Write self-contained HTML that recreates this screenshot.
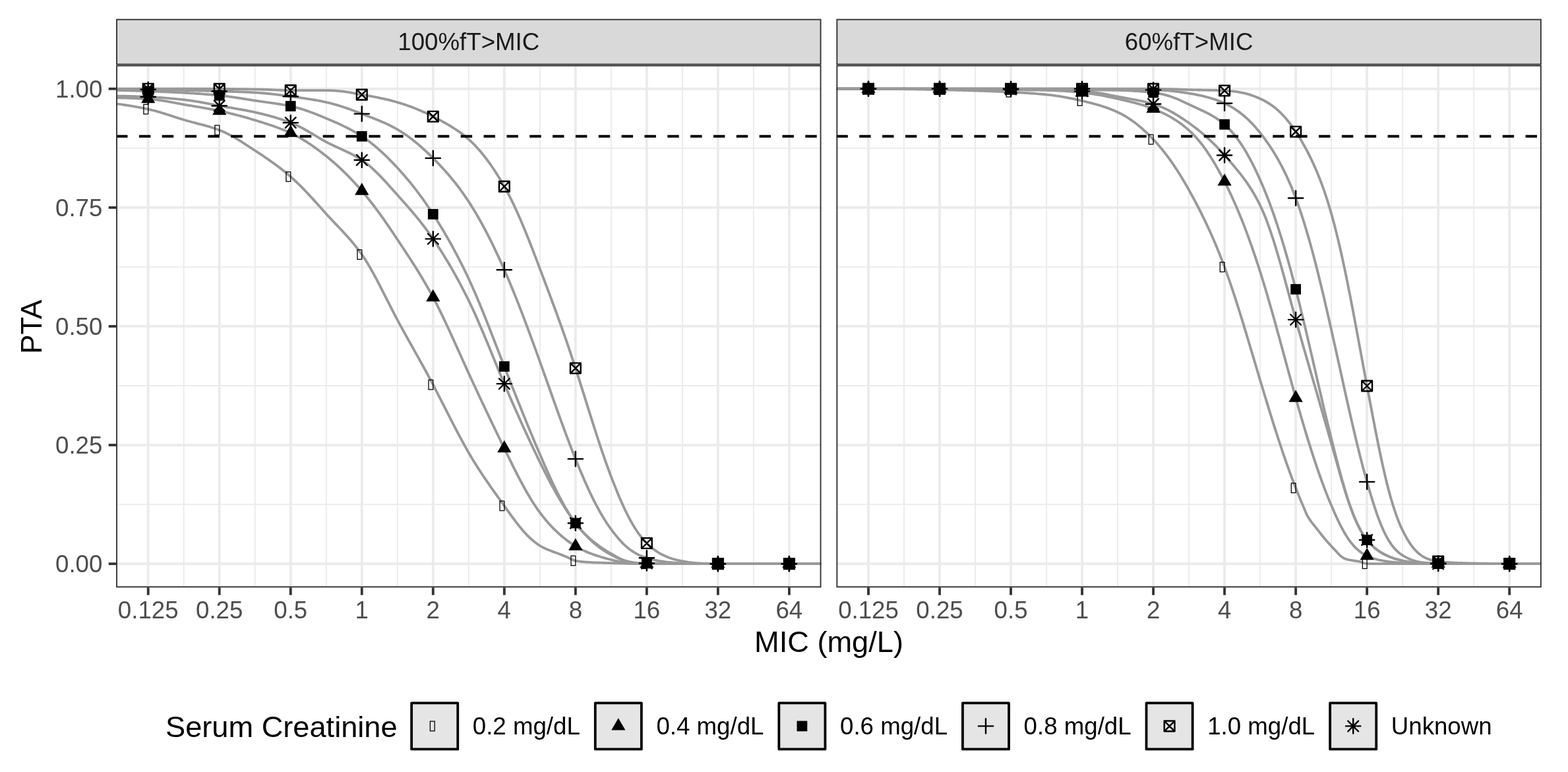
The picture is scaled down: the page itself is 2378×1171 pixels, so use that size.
<!DOCTYPE html>
<html><head><meta charset="utf-8"><title>PTA plot</title>
<style>html,body{margin:0;padding:0;background:#fff;}svg{display:block;}</style>
</head><body>
<svg width="2378" height="1171" viewBox="0 0 2378 1171">
<rect width="2378" height="1171" fill="#fff"/>
<defs>
<clipPath id="cp0"><rect x="176.1" y="98.7" width="1069.4" height="792.5"/></clipPath>
<clipPath id="cp1"><rect x="1268.4" y="98.7" width="1069.4" height="792.5"/></clipPath>
</defs>
<rect x="177.05" y="29.65" width="1067.5" height="67.9" fill="#D9D9D9" stroke="#333333" stroke-width="1.9"/>
<text x="710.8" y="76.2" text-anchor="middle" font-size="36.67" fill="#1A1A1A" font-family="'Liberation Sans', Arial, sans-serif">100%fT&gt;MIC</text>
<g clip-path="url(#cp0)">
<line x1="176.1" x2="1245.5" y1="765.12" y2="765.12" stroke="#EBEBEB" stroke-width="1.92"/>
<line x1="176.1" x2="1245.5" y1="585.01" y2="585.01" stroke="#EBEBEB" stroke-width="1.92"/>
<line x1="176.1" x2="1245.5" y1="404.89" y2="404.89" stroke="#EBEBEB" stroke-width="1.92"/>
<line x1="176.1" x2="1245.5" y1="224.78" y2="224.78" stroke="#EBEBEB" stroke-width="1.92"/>
<line x1="278.72" x2="278.72" y1="98.7" y2="891.2" stroke="#EBEBEB" stroke-width="1.92"/>
<line x1="386.74" x2="386.74" y1="98.7" y2="891.2" stroke="#EBEBEB" stroke-width="1.92"/>
<line x1="494.76" x2="494.76" y1="98.7" y2="891.2" stroke="#EBEBEB" stroke-width="1.92"/>
<line x1="602.78" x2="602.78" y1="98.7" y2="891.2" stroke="#EBEBEB" stroke-width="1.92"/>
<line x1="710.8" x2="710.8" y1="98.7" y2="891.2" stroke="#EBEBEB" stroke-width="1.92"/>
<line x1="818.82" x2="818.82" y1="98.7" y2="891.2" stroke="#EBEBEB" stroke-width="1.92"/>
<line x1="926.84" x2="926.84" y1="98.7" y2="891.2" stroke="#EBEBEB" stroke-width="1.92"/>
<line x1="1034.86" x2="1034.86" y1="98.7" y2="891.2" stroke="#EBEBEB" stroke-width="1.92"/>
<line x1="1142.88" x2="1142.88" y1="98.7" y2="891.2" stroke="#EBEBEB" stroke-width="1.92"/>
<line x1="176.1" x2="1245.5" y1="855.18" y2="855.18" stroke="#EBEBEB" stroke-width="3.84"/>
<line x1="176.1" x2="1245.5" y1="675.06" y2="675.06" stroke="#EBEBEB" stroke-width="3.84"/>
<line x1="176.1" x2="1245.5" y1="494.95" y2="494.95" stroke="#EBEBEB" stroke-width="3.84"/>
<line x1="176.1" x2="1245.5" y1="314.84" y2="314.84" stroke="#EBEBEB" stroke-width="3.84"/>
<line x1="176.1" x2="1245.5" y1="134.72" y2="134.72" stroke="#EBEBEB" stroke-width="3.84"/>
<line x1="224.71" x2="224.71" y1="98.7" y2="891.2" stroke="#EBEBEB" stroke-width="3.84"/>
<line x1="332.73" x2="332.73" y1="98.7" y2="891.2" stroke="#EBEBEB" stroke-width="3.84"/>
<line x1="440.75" x2="440.75" y1="98.7" y2="891.2" stroke="#EBEBEB" stroke-width="3.84"/>
<line x1="548.77" x2="548.77" y1="98.7" y2="891.2" stroke="#EBEBEB" stroke-width="3.84"/>
<line x1="656.79" x2="656.79" y1="98.7" y2="891.2" stroke="#EBEBEB" stroke-width="3.84"/>
<line x1="764.81" x2="764.81" y1="98.7" y2="891.2" stroke="#EBEBEB" stroke-width="3.84"/>
<line x1="872.83" x2="872.83" y1="98.7" y2="891.2" stroke="#EBEBEB" stroke-width="3.84"/>
<line x1="980.85" x2="980.85" y1="98.7" y2="891.2" stroke="#EBEBEB" stroke-width="3.84"/>
<line x1="1088.87" x2="1088.87" y1="98.7" y2="891.2" stroke="#EBEBEB" stroke-width="3.84"/>
<line x1="1196.89" x2="1196.89" y1="98.7" y2="891.2" stroke="#EBEBEB" stroke-width="3.84"/>
<rect x="216.21" y="156.7" width="10.2" height="18" fill="#fff"/>
<rect x="324.23" y="188.4" width="10.2" height="18" fill="#fff"/>
<rect x="432.25" y="259.01" width="10.2" height="18" fill="#fff"/>
<rect x="540.27" y="377.16" width="10.2" height="18" fill="#fff"/>
<rect x="648.29" y="574.57" width="10.2" height="18" fill="#fff"/>
<rect x="756.31" y="758.28" width="10.2" height="18" fill="#fff"/>
<rect x="864.33" y="841.49" width="10.2" height="18" fill="#fff"/>
<rect x="972.35" y="846.18" width="10.2" height="18" fill="#fff"/>
<rect x="1080.37" y="846.18" width="10.2" height="18" fill="#fff"/>
<rect x="1188.39" y="846.18" width="10.2" height="18" fill="#fff"/>
<path d="M176.1 157.35 L178.78 157.7 L181.46 158.07 L184.14 158.44 L186.82 158.83 L189.5 159.24 L192.18 159.65 L194.86 160.07 L197.54 160.51 L200.22 160.96 L202.9 161.43 L205.58 161.9 L208.26 162.39 L210.94 162.89 L213.62 163.41 L216.3 163.94 L218.98 164.49 L221.66 165.05 L224.34 165.62 L227.02 166.22 L229.7 166.85 L232.38 167.51 L235.06 168.21 L237.74 168.93 L240.42 169.68 L243.11 170.45 L245.79 171.25 L248.47 172.07 L251.15 172.9 L253.83 173.75 L256.51 174.61 L259.19 175.48 L261.87 176.35 L264.55 177.23 L267.23 178.1 L269.91 178.96 L272.59 179.81 L275.27 180.65 L277.95 181.47 L280.63 182.26 L283.31 183.03 L285.99 183.77 L288.67 184.51 L291.35 185.23 L294.03 185.94 L296.71 186.64 L299.39 187.34 L302.07 188.03 L304.75 188.74 L307.43 189.45 L310.11 190.17 L312.79 190.91 L315.47 191.67 L318.15 192.46 L320.83 193.27 L323.51 194.12 L326.19 195.02 L328.87 195.96 L331.55 196.95 L334.23 198 L336.91 199.12 L339.59 200.3 L342.27 201.54 L344.95 202.85 L347.63 204.21 L350.31 205.63 L352.99 207.1 L355.67 208.62 L358.35 210.18 L361.03 211.78 L363.71 213.43 L366.39 215.1 L369.07 216.81 L371.75 218.54 L374.43 220.28 L377.12 222.04 L379.8 223.81 L382.48 225.58 L385.16 227.34 L387.84 229.1 L390.52 230.86 L393.2 232.63 L395.88 234.41 L398.56 236.21 L401.24 238.02 L403.92 239.85 L406.6 241.7 L409.28 243.57 L411.96 245.47 L414.64 247.39 L417.32 249.34 L420 251.32 L422.68 253.33 L425.36 255.39 L428.04 257.48 L430.72 259.61 L433.4 261.78 L436.08 264.01 L438.76 266.28 L441.44 268.61 L444.12 271.01 L446.8 273.46 L449.48 275.98 L452.16 278.56 L454.84 281.2 L457.52 283.89 L460.2 286.62 L462.88 289.41 L465.56 292.23 L468.24 295.09 L470.92 297.99 L473.6 300.91 L476.28 303.86 L478.96 306.82 L481.64 309.8 L484.32 312.79 L487 315.79 L489.68 318.78 L492.36 321.76 L495.04 324.73 L497.72 327.67 L500.4 330.56 L503.08 333.43 L505.76 336.27 L508.44 339.09 L511.13 341.91 L513.81 344.72 L516.49 347.55 L519.17 350.4 L521.85 353.28 L524.53 356.2 L527.21 359.16 L529.89 362.19 L532.57 365.29 L535.25 368.47 L537.93 371.75 L540.61 375.12 L543.29 378.61 L545.97 382.23 L548.65 385.99 L551.33 389.91 L554.01 394.02 L556.69 398.3 L559.37 402.75 L562.05 407.34 L564.73 412.07 L567.41 416.93 L570.09 421.89 L572.77 426.95 L575.45 432.08 L578.13 437.28 L580.81 442.53 L583.49 447.82 L586.17 453.12 L588.85 458.42 L591.53 463.71 L594.21 468.96 L596.89 474.17 L599.57 479.32 L602.25 484.38 L604.93 489.37 L607.61 494.3 L610.29 499.2 L612.97 504.06 L615.65 508.89 L618.33 513.7 L621.01 518.5 L623.69 523.28 L626.37 528.05 L629.05 532.83 L631.73 537.61 L634.41 542.4 L637.09 547.21 L639.77 552.04 L642.45 556.9 L645.14 561.79 L647.82 566.72 L650.5 571.7 L653.18 576.72 L655.86 581.79 L658.54 586.91 L661.22 592.08 L663.9 597.28 L666.58 602.52 L669.26 607.78 L671.94 613.05 L674.62 618.32 L677.3 623.6 L679.98 628.87 L682.66 634.12 L685.34 639.35 L688.02 644.54 L690.7 649.71 L693.38 654.83 L696.06 659.9 L698.74 664.92 L701.42 669.87 L704.1 674.76 L706.78 679.58 L709.46 684.32 L712.14 688.98 L714.82 693.53 L717.5 697.97 L720.18 702.32 L722.86 706.59 L725.54 710.78 L728.22 714.89 L730.9 718.95 L733.58 722.96 L736.26 726.91 L738.94 730.83 L741.62 734.71 L744.3 738.56 L746.98 742.38 L749.66 746.17 L752.34 749.95 L755.02 753.7 L757.7 757.44 L760.38 761.17 L763.06 764.87 L765.74 768.57 L768.42 772.3 L771.1 776.05 L773.78 779.8 L776.46 783.52 L779.15 787.19 L781.83 790.79 L784.51 794.31 L787.19 797.73 L789.87 801.03 L792.55 804.21 L795.23 807.25 L797.91 810.15 L800.59 812.91 L803.27 815.52 L805.95 817.98 L808.63 820.29 L811.31 822.44 L813.99 824.46 L816.67 826.33 L819.35 828.06 L822.03 829.61 L824.71 831.01 L827.39 832.27 L830.07 833.44 L832.75 834.54 L835.43 835.58 L838.11 836.59 L840.79 837.58 L843.47 838.57 L846.15 839.56 L848.83 840.57 L851.51 841.59 L854.19 842.63 L856.87 843.68 L859.55 844.76 L862.23 846.1 L864.91 847.51 L867.59 848.79 L870.27 849.81 L872.95 850.52 L875.63 851.03 L878.31 851.46 L880.99 851.81 L883.67 852.11 L886.35 852.37 L889.03 852.58 L891.71 852.77 L894.39 852.94 L897.07 853.08 L899.75 853.21 L902.43 853.32 L905.11 853.43 L907.79 853.53 L910.47 853.62 L913.16 853.7 L915.84 853.78 L918.52 853.86 L921.2 853.94 L923.88 854.01 L926.56 854.09 L929.24 854.16 L931.92 854.24 L934.6 854.32 L937.28 854.4 L939.96 854.47 L942.64 854.54 L945.32 854.6 L948 854.66 L950.68 854.71 L953.36 854.76 L956.04 854.8 L958.72 854.83 L961.4 854.86 L964.08 854.89 L966.76 854.91 L969.44 854.93 L972.12 854.94 L974.8 854.95 L977.48 854.96 L980.16 855.18 L982.84 855.18 L985.52 855.18 L988.2 855.18 L990.88 855.18 L993.56 855.18 L996.24 855.18 L998.92 855.18 L1001.6 855.18 L1004.28 855.18 L1006.96 855.18 L1009.64 855.18 L1012.32 855.18 L1015 855.18 L1017.68 855.18 L1020.36 855.18 L1023.04 855.18 L1025.72 855.18 L1028.4 855.18 L1031.08 855.18 L1033.76 855.18 L1036.44 855.18 L1039.12 855.18 L1041.8 855.18 L1044.48 855.18 L1047.17 855.18 L1049.85 855.18 L1052.53 855.18 L1055.21 855.18 L1057.89 855.18 L1060.57 855.18 L1063.25 855.18 L1065.93 855.18 L1068.61 855.18 L1071.29 855.18 L1073.97 855.18 L1076.65 855.18 L1079.33 855.18 L1082.01 855.18 L1084.69 855.18 L1087.37 855.18 L1090.05 855.18 L1092.73 855.18 L1095.41 855.18 L1098.09 855.18 L1100.77 855.18 L1103.45 855.18 L1106.13 855.18 L1108.81 855.18 L1111.49 855.18 L1114.17 855.18 L1116.85 855.18 L1119.53 855.18 L1122.21 855.18 L1124.89 855.18 L1127.57 855.18 L1130.25 855.18 L1132.93 855.18 L1135.61 855.18 L1138.29 855.18 L1140.97 855.18 L1143.65 855.18 L1146.33 855.18 L1149.01 855.18 L1151.69 855.18 L1154.37 855.18 L1157.05 855.18 L1159.73 855.18 L1162.41 855.18 L1165.09 855.18 L1167.77 855.18 L1170.45 855.18 L1173.13 855.18 L1175.81 855.18 L1178.49 855.18 L1181.18 855.18 L1183.86 855.18 L1186.54 855.18 L1189.22 855.18 L1191.9 855.18 L1194.58 855.18 L1197.26 855.18 L1199.94 855.18 L1202.62 855.18 L1205.3 855.18 L1207.98 855.18 L1210.66 855.18 L1213.34 855.18 L1216.02 855.18 L1218.7 855.18 L1221.38 855.18 L1224.06 855.18 L1226.74 855.18 L1229.42 855.18 L1232.1 855.18 L1234.78 855.18 L1237.46 855.18 L1240.14 855.18 L1242.82 855.18 L1245.5 855.18" fill="none" stroke="#999999" stroke-width="3.84" stroke-linejoin="round"/>
<path d="M176.1 148.41 L178.78 148.42 L181.46 148.44 L184.14 148.48 L186.82 148.53 L189.5 148.59 L192.18 148.66 L194.86 148.74 L197.54 148.84 L200.22 148.94 L202.9 149.06 L205.58 149.18 L208.26 149.3 L210.94 149.44 L213.62 149.58 L216.3 149.73 L218.98 149.88 L221.66 150.03 L224.34 150.19 L227.02 150.36 L229.7 150.58 L232.38 150.83 L235.06 151.11 L237.74 151.43 L240.42 151.78 L243.11 152.16 L245.79 152.57 L248.47 153 L251.15 153.45 L253.83 153.92 L256.51 154.41 L259.19 154.92 L261.87 155.43 L264.55 155.94 L267.23 156.46 L269.91 156.97 L272.59 157.48 L275.27 157.97 L277.95 158.44 L280.63 158.89 L283.31 159.34 L285.99 159.79 L288.67 160.23 L291.35 160.68 L294.03 161.13 L296.71 161.57 L299.39 162.02 L302.07 162.48 L304.75 162.94 L307.43 163.4 L310.11 163.87 L312.79 164.35 L315.47 164.83 L318.15 165.32 L320.83 165.83 L323.51 166.34 L326.19 166.87 L328.87 167.41 L331.55 167.97 L334.23 168.55 L336.91 169.14 L339.59 169.74 L342.27 170.35 L344.95 170.98 L347.63 171.62 L350.31 172.27 L352.99 172.94 L355.67 173.61 L358.35 174.3 L361.03 175 L363.71 175.72 L366.39 176.45 L369.07 177.18 L371.75 177.93 L374.43 178.7 L377.12 179.47 L379.8 180.26 L382.48 181.05 L385.16 181.86 L387.84 182.68 L390.52 183.5 L393.2 184.33 L395.88 185.16 L398.56 186 L401.24 186.85 L403.92 187.71 L406.6 188.58 L409.28 189.46 L411.96 190.36 L414.64 191.29 L417.32 192.23 L420 193.19 L422.68 194.18 L425.36 195.2 L428.04 196.25 L430.72 197.33 L433.4 198.45 L436.08 199.6 L438.76 200.8 L441.44 202.05 L444.12 203.35 L446.8 204.7 L449.48 206.11 L452.16 207.56 L454.84 209.07 L457.52 210.63 L460.2 212.24 L462.88 213.9 L465.56 215.61 L468.24 217.37 L470.92 219.17 L473.6 221.01 L476.28 222.9 L478.96 224.82 L481.64 226.79 L484.32 228.79 L487 230.82 L489.68 232.89 L492.36 234.99 L495.04 237.11 L497.72 239.27 L500.4 241.48 L503.08 243.73 L505.76 246.03 L508.44 248.38 L511.13 250.78 L513.81 253.22 L516.49 255.72 L519.17 258.26 L521.85 260.85 L524.53 263.49 L527.21 266.18 L529.89 268.92 L532.57 271.71 L535.25 274.55 L537.93 277.44 L540.61 280.37 L543.29 283.36 L545.97 286.39 L548.65 289.48 L551.33 292.62 L554.01 295.83 L556.69 299.1 L559.37 302.43 L562.05 305.83 L564.73 309.28 L567.41 312.79 L570.09 316.36 L572.77 319.98 L575.45 323.65 L578.13 327.37 L580.81 331.13 L583.49 334.94 L586.17 338.79 L588.85 342.68 L591.53 346.61 L594.21 350.56 L596.89 354.55 L599.57 358.56 L602.25 362.6 L604.93 366.64 L607.61 370.69 L610.29 374.74 L612.97 378.79 L615.65 382.86 L618.33 386.94 L621.01 391.05 L623.69 395.18 L626.37 399.35 L629.05 403.56 L631.73 407.82 L634.41 412.13 L637.09 416.5 L639.77 420.93 L642.45 425.44 L645.14 430.02 L647.82 434.69 L650.5 439.44 L653.18 444.29 L655.86 449.25 L658.54 454.31 L661.22 459.49 L663.9 464.77 L666.58 470.14 L669.26 475.61 L671.94 481.16 L674.62 486.78 L677.3 492.47 L679.98 498.23 L682.66 504.04 L685.34 509.89 L688.02 515.78 L690.7 521.7 L693.38 527.64 L696.06 533.59 L698.74 539.55 L701.42 545.5 L704.1 551.45 L706.78 557.37 L709.46 563.27 L712.14 569.13 L714.82 574.96 L717.5 580.77 L720.18 586.55 L722.86 592.31 L725.54 598.05 L728.22 603.76 L730.9 609.46 L733.58 615.14 L736.26 620.8 L738.94 626.44 L741.62 632.07 L744.3 637.68 L746.98 643.28 L749.66 648.87 L752.34 654.43 L755.02 659.98 L757.7 665.52 L760.38 671.04 L763.06 676.54 L765.74 682.02 L768.42 687.5 L771.1 692.99 L773.78 698.46 L776.46 703.9 L779.15 709.3 L781.83 714.64 L784.51 719.91 L787.19 725.11 L789.87 730.21 L792.55 735.21 L795.23 740.11 L797.91 744.89 L800.59 749.54 L803.27 754.06 L805.95 758.45 L808.63 762.7 L811.31 766.8 L813.99 770.76 L816.67 774.56 L819.35 778.22 L822.03 781.74 L824.71 785.14 L827.39 788.41 L830.07 791.56 L832.75 794.6 L835.43 797.53 L838.11 800.35 L840.79 803.06 L843.47 805.68 L846.15 808.2 L848.83 810.62 L851.51 812.95 L854.19 815.2 L856.87 817.35 L859.55 819.42 L862.23 821.41 L864.91 823.32 L867.59 825.15 L870.27 826.91 L872.95 828.6 L875.63 830.19 L878.31 831.67 L880.99 833.07 L883.67 834.38 L886.35 835.62 L889.03 836.8 L891.71 837.92 L894.39 838.99 L897.07 840.01 L899.75 840.99 L902.43 841.93 L905.11 842.83 L907.79 843.7 L910.47 844.53 L913.16 845.34 L915.84 846.11 L918.52 846.86 L921.2 847.58 L923.88 848.26 L926.56 848.91 L929.24 849.57 L931.92 850.27 L934.6 850.96 L937.28 851.62 L939.96 852.22 L942.64 852.76 L945.32 853.21 L948 853.6 L950.68 853.92 L953.36 854.17 L956.04 854.37 L958.72 854.53 L961.4 854.65 L964.08 854.75 L966.76 854.82 L969.44 854.87 L972.12 854.91 L974.8 854.94 L977.48 854.95 L980.16 855.18 L982.84 855.18 L985.52 855.18 L988.2 855.18 L990.88 855.18 L993.56 855.18 L996.24 855.18 L998.92 855.18 L1001.6 855.18 L1004.28 855.18 L1006.96 855.18 L1009.64 855.18 L1012.32 855.18 L1015 855.18 L1017.68 855.18 L1020.36 855.18 L1023.04 855.18 L1025.72 855.18 L1028.4 855.18 L1031.08 855.18 L1033.76 855.18 L1036.44 855.18 L1039.12 855.18 L1041.8 855.18 L1044.48 855.18 L1047.17 855.18 L1049.85 855.18 L1052.53 855.18 L1055.21 855.18 L1057.89 855.18 L1060.57 855.18 L1063.25 855.18 L1065.93 855.18 L1068.61 855.18 L1071.29 855.18 L1073.97 855.18 L1076.65 855.18 L1079.33 855.18 L1082.01 855.18 L1084.69 855.18 L1087.37 855.18 L1090.05 855.18 L1092.73 855.18 L1095.41 855.18 L1098.09 855.18 L1100.77 855.18 L1103.45 855.18 L1106.13 855.18 L1108.81 855.18 L1111.49 855.18 L1114.17 855.18 L1116.85 855.18 L1119.53 855.18 L1122.21 855.18 L1124.89 855.18 L1127.57 855.18 L1130.25 855.18 L1132.93 855.18 L1135.61 855.18 L1138.29 855.18 L1140.97 855.18 L1143.65 855.18 L1146.33 855.18 L1149.01 855.18 L1151.69 855.18 L1154.37 855.18 L1157.05 855.18 L1159.73 855.18 L1162.41 855.18 L1165.09 855.18 L1167.77 855.18 L1170.45 855.18 L1173.13 855.18 L1175.81 855.18 L1178.49 855.18 L1181.18 855.18 L1183.86 855.18 L1186.54 855.18 L1189.22 855.18 L1191.9 855.18 L1194.58 855.18 L1197.26 855.18 L1199.94 855.18 L1202.62 855.18 L1205.3 855.18 L1207.98 855.18 L1210.66 855.18 L1213.34 855.18 L1216.02 855.18 L1218.7 855.18 L1221.38 855.18 L1224.06 855.18 L1226.74 855.18 L1229.42 855.18 L1232.1 855.18 L1234.78 855.18 L1237.46 855.18 L1240.14 855.18 L1242.82 855.18 L1245.5 855.18" fill="none" stroke="#999999" stroke-width="3.84" stroke-linejoin="round"/>
<path d="M176.1 136.88 L178.78 136.95 L181.46 137.02 L184.14 137.08 L186.82 137.15 L189.5 137.22 L192.18 137.3 L194.86 137.37 L197.54 137.45 L200.22 137.53 L202.9 137.61 L205.58 137.69 L208.26 137.77 L210.94 137.86 L213.62 137.94 L216.3 138.03 L218.98 138.12 L221.66 138.22 L224.34 138.31 L227.02 138.41 L229.7 138.51 L232.38 138.61 L235.06 138.71 L237.74 138.81 L240.42 138.91 L243.11 139.02 L245.79 139.13 L248.47 139.24 L251.15 139.35 L253.83 139.47 L256.51 139.59 L259.19 139.71 L261.87 139.83 L264.55 139.96 L267.23 140.09 L269.91 140.23 L272.59 140.37 L275.27 140.51 L277.95 140.66 L280.63 140.81 L283.31 140.97 L285.99 141.13 L288.67 141.3 L291.35 141.47 L294.03 141.64 L296.71 141.82 L299.39 142 L302.07 142.19 L304.75 142.39 L307.43 142.59 L310.11 142.79 L312.79 143 L315.47 143.22 L318.15 143.45 L320.83 143.68 L323.51 143.92 L326.19 144.17 L328.87 144.42 L331.55 144.69 L334.23 144.97 L336.91 145.26 L339.59 145.56 L342.27 145.88 L344.95 146.22 L347.63 146.57 L350.31 146.93 L352.99 147.31 L355.67 147.69 L358.35 148.09 L361.03 148.5 L363.71 148.92 L366.39 149.34 L369.07 149.77 L371.75 150.2 L374.43 150.63 L377.12 151.07 L379.8 151.5 L382.48 151.93 L385.16 152.35 L387.84 152.76 L390.52 153.16 L393.2 153.55 L395.88 153.93 L398.56 154.31 L401.24 154.69 L403.92 155.06 L406.6 155.43 L409.28 155.8 L411.96 156.17 L414.64 156.55 L417.32 156.93 L420 157.33 L422.68 157.74 L425.36 158.16 L428.04 158.6 L430.72 159.06 L433.4 159.54 L436.08 160.05 L438.76 160.59 L441.44 161.17 L444.12 161.79 L446.8 162.44 L449.48 163.14 L452.16 163.87 L454.84 164.64 L457.52 165.45 L460.2 166.29 L462.88 167.16 L465.56 168.07 L468.24 169.01 L470.92 169.98 L473.6 170.98 L476.28 172.01 L478.96 173.05 L481.64 174.12 L484.32 175.21 L487 176.31 L489.68 177.42 L492.36 178.53 L495.04 179.65 L497.72 180.78 L500.4 181.92 L503.08 183.07 L505.76 184.23 L508.44 185.41 L511.13 186.61 L513.81 187.83 L516.49 189.08 L519.17 190.34 L521.85 191.64 L524.53 192.96 L527.21 194.31 L529.89 195.7 L532.57 197.13 L535.25 198.6 L537.93 200.11 L540.61 201.68 L543.29 203.29 L545.97 204.96 L548.65 206.69 L551.33 208.48 L554.01 210.34 L556.69 212.26 L559.37 214.24 L562.05 216.29 L564.73 218.4 L567.41 220.58 L570.09 222.81 L572.77 225.11 L575.45 227.47 L578.13 229.89 L580.81 232.36 L583.49 234.89 L586.17 237.48 L588.85 240.12 L591.53 242.81 L594.21 245.55 L596.89 248.34 L599.57 251.17 L602.25 254.04 L604.93 256.95 L607.61 259.92 L610.29 262.93 L612.97 266.01 L615.65 269.13 L618.33 272.32 L621.01 275.56 L623.69 278.86 L626.37 282.21 L629.05 285.63 L631.73 289.12 L634.41 292.66 L637.09 296.27 L639.77 299.95 L642.45 303.69 L645.14 307.51 L647.82 311.39 L650.5 315.35 L653.18 319.37 L655.86 323.48 L658.54 327.65 L661.22 331.87 L663.9 336.15 L666.58 340.49 L669.26 344.88 L671.94 349.34 L674.62 353.86 L677.3 358.45 L679.98 363.11 L682.66 367.85 L685.34 372.67 L688.02 377.56 L690.7 382.54 L693.38 387.61 L696.06 392.77 L698.74 398.02 L701.42 403.37 L704.1 408.82 L706.78 414.37 L709.46 420.03 L712.14 425.8 L714.82 431.7 L717.5 437.72 L720.18 443.85 L722.86 450.08 L725.54 456.42 L728.22 462.86 L730.9 469.38 L733.58 475.98 L736.26 482.65 L738.94 489.38 L741.62 496.17 L744.3 503.01 L746.98 509.88 L749.66 516.78 L752.34 523.7 L755.02 530.64 L757.7 537.57 L760.38 544.5 L763.06 551.41 L765.74 558.3 L768.42 565.16 L771.1 572 L773.78 578.83 L776.46 585.62 L779.15 592.4 L781.83 599.15 L784.51 605.88 L787.19 612.58 L789.87 619.26 L792.55 625.9 L795.23 632.52 L797.91 639.1 L800.59 645.65 L803.27 652.17 L805.95 658.64 L808.63 665.07 L811.31 671.46 L813.99 677.81 L816.67 684.1 L819.35 690.34 L822.03 696.54 L824.71 702.71 L827.39 708.82 L830.07 714.86 L832.75 720.83 L835.43 726.69 L838.11 732.45 L840.79 738.09 L843.47 743.6 L846.15 748.97 L848.83 754.19 L851.51 759.26 L854.19 764.16 L856.87 768.9 L859.55 773.47 L862.23 777.86 L864.91 782.08 L867.59 786.12 L870.27 789.98 L872.95 793.67 L875.63 797.16 L878.31 800.44 L880.99 803.54 L883.67 806.47 L886.35 809.26 L889.03 811.91 L891.71 814.44 L894.39 816.86 L897.07 819.18 L899.75 821.41 L902.43 823.55 L905.11 825.62 L907.79 827.61 L910.47 829.53 L913.16 831.38 L915.84 833.17 L918.52 834.9 L921.2 836.55 L923.88 838.15 L926.56 839.67 L929.24 841.19 L931.92 842.75 L934.6 844.29 L937.28 845.76 L939.96 847.12 L942.64 848.36 L945.32 849.45 L948 850.41 L950.68 851.22 L953.36 851.9 L956.04 852.47 L958.72 852.94 L961.4 853.32 L964.08 853.62 L966.76 853.86 L969.44 854.05 L972.12 854.2 L974.8 854.31 L977.48 854.39 L980.16 854.45 L982.84 854.48 L985.52 854.52 L988.2 854.55 L990.88 854.58 L993.56 854.61 L996.24 854.64 L998.92 854.66 L1001.6 854.69 L1004.28 854.71 L1006.96 854.73 L1009.64 854.75 L1012.32 854.77 L1015 854.78 L1017.68 854.8 L1020.36 854.81 L1023.04 854.83 L1025.72 854.84 L1028.4 854.85 L1031.08 854.86 L1033.76 854.87 L1036.44 854.88 L1039.12 854.89 L1041.8 854.9 L1044.48 854.91 L1047.17 854.91 L1049.85 854.92 L1052.53 854.93 L1055.21 854.93 L1057.89 854.94 L1060.57 854.94 L1063.25 854.94 L1065.93 854.95 L1068.61 854.95 L1071.29 854.95 L1073.97 854.96 L1076.65 854.96 L1079.33 854.96 L1082.01 855.18 L1084.69 855.18 L1087.37 855.18 L1090.05 855.18 L1092.73 855.18 L1095.41 855.18 L1098.09 855.18 L1100.77 855.18 L1103.45 855.18 L1106.13 855.18 L1108.81 855.18 L1111.49 855.18 L1114.17 855.18 L1116.85 855.18 L1119.53 855.18 L1122.21 855.18 L1124.89 855.18 L1127.57 855.18 L1130.25 855.18 L1132.93 855.18 L1135.61 855.18 L1138.29 855.18 L1140.97 855.18 L1143.65 855.18 L1146.33 855.18 L1149.01 855.18 L1151.69 855.18 L1154.37 855.18 L1157.05 855.18 L1159.73 855.18 L1162.41 855.18 L1165.09 855.18 L1167.77 855.18 L1170.45 855.18 L1173.13 855.18 L1175.81 855.18 L1178.49 855.18 L1181.18 855.18 L1183.86 855.18 L1186.54 855.18 L1189.22 855.18 L1191.9 855.18 L1194.58 855.18 L1197.26 855.18 L1199.94 855.18 L1202.62 855.18 L1205.3 855.18 L1207.98 855.18 L1210.66 855.18 L1213.34 855.18 L1216.02 855.18 L1218.7 855.18 L1221.38 855.18 L1224.06 855.18 L1226.74 855.18 L1229.42 855.18 L1232.1 855.18 L1234.78 855.18 L1237.46 855.18 L1240.14 855.18 L1242.82 855.18 L1245.5 855.18" fill="none" stroke="#999999" stroke-width="3.84" stroke-linejoin="round"/>
<path d="M176.1 135.44 L178.78 135.46 L181.46 135.47 L184.14 135.48 L186.82 135.5 L189.5 135.51 L192.18 135.53 L194.86 135.55 L197.54 135.56 L200.22 135.58 L202.9 135.6 L205.58 135.62 L208.26 135.65 L210.94 135.67 L213.62 135.69 L216.3 135.72 L218.98 135.74 L221.66 135.77 L224.34 135.8 L227.02 135.83 L229.7 135.86 L232.38 135.9 L235.06 135.94 L237.74 135.98 L240.42 136.03 L243.11 136.07 L245.79 136.12 L248.47 136.18 L251.15 136.23 L253.83 136.29 L256.51 136.35 L259.19 136.41 L261.87 136.47 L264.55 136.54 L267.23 136.6 L269.91 136.67 L272.59 136.74 L275.27 136.8 L277.95 136.87 L280.63 136.93 L283.31 136.99 L285.99 137.06 L288.67 137.12 L291.35 137.19 L294.03 137.25 L296.71 137.32 L299.39 137.39 L302.07 137.46 L304.75 137.52 L307.43 137.59 L310.11 137.67 L312.79 137.74 L315.47 137.81 L318.15 137.89 L320.83 137.96 L323.51 138.04 L326.19 138.12 L328.87 138.2 L331.55 138.29 L334.23 138.37 L336.91 138.46 L339.59 138.54 L342.27 138.63 L344.95 138.72 L347.63 138.8 L350.31 138.89 L352.99 138.98 L355.67 139.07 L358.35 139.16 L361.03 139.25 L363.71 139.35 L366.39 139.45 L369.07 139.56 L371.75 139.67 L374.43 139.79 L377.12 139.91 L379.8 140.04 L382.48 140.18 L385.16 140.32 L387.84 140.48 L390.52 140.65 L393.2 140.84 L395.88 141.04 L398.56 141.25 L401.24 141.49 L403.92 141.73 L406.6 141.99 L409.28 142.27 L411.96 142.56 L414.64 142.86 L417.32 143.17 L420 143.5 L422.68 143.83 L425.36 144.18 L428.04 144.53 L430.72 144.89 L433.4 145.25 L436.08 145.62 L438.76 145.98 L441.44 146.34 L444.12 146.71 L446.8 147.07 L449.48 147.44 L452.16 147.82 L454.84 148.2 L457.52 148.58 L460.2 148.97 L462.88 149.37 L465.56 149.78 L468.24 150.19 L470.92 150.62 L473.6 151.06 L476.28 151.51 L478.96 151.97 L481.64 152.46 L484.32 152.96 L487 153.48 L489.68 154.02 L492.36 154.58 L495.04 155.18 L497.72 155.8 L500.4 156.45 L503.08 157.13 L505.76 157.85 L508.44 158.59 L511.13 159.36 L513.81 160.16 L516.49 160.99 L519.17 161.85 L521.85 162.73 L524.53 163.64 L527.21 164.57 L529.89 165.52 L532.57 166.49 L535.25 167.48 L537.93 168.48 L540.61 169.49 L543.29 170.52 L545.97 171.54 L548.65 172.57 L551.33 173.6 L554.01 174.63 L556.69 175.66 L559.37 176.7 L562.05 177.74 L564.73 178.79 L567.41 179.85 L570.09 180.92 L572.77 182.01 L575.45 183.12 L578.13 184.25 L580.81 185.41 L583.49 186.59 L586.17 187.81 L588.85 189.07 L591.53 190.37 L594.21 191.72 L596.89 193.11 L599.57 194.57 L602.25 196.09 L604.93 197.67 L607.61 199.31 L610.29 201.02 L612.97 202.79 L615.65 204.62 L618.33 206.51 L621.01 208.47 L623.69 210.48 L626.37 212.56 L629.05 214.69 L631.73 216.88 L634.41 219.13 L637.09 221.44 L639.77 223.8 L642.45 226.21 L645.14 228.67 L647.82 231.18 L650.5 233.74 L653.18 236.34 L655.86 238.98 L658.54 241.66 L661.22 244.38 L663.9 247.14 L666.58 249.96 L669.26 252.82 L671.94 255.73 L674.62 258.69 L677.3 261.72 L679.98 264.8 L682.66 267.95 L685.34 271.17 L688.02 274.45 L690.7 277.82 L693.38 281.26 L696.06 284.78 L698.74 288.39 L701.42 292.09 L704.1 295.89 L706.78 299.79 L709.46 303.79 L712.14 307.9 L714.82 312.11 L717.5 316.43 L720.18 320.84 L722.86 325.36 L725.54 329.98 L728.22 334.71 L730.9 339.54 L733.58 344.47 L736.26 349.5 L738.94 354.64 L741.62 359.88 L744.3 365.21 L746.98 370.65 L749.66 376.18 L752.34 381.81 L755.02 387.54 L757.7 393.35 L760.38 399.26 L763.06 405.26 L765.74 411.35 L768.42 417.53 L771.1 423.81 L773.78 430.19 L776.46 436.66 L779.15 443.22 L781.83 449.88 L784.51 456.61 L787.19 463.43 L789.87 470.33 L792.55 477.3 L795.23 484.34 L797.91 491.45 L800.59 498.61 L803.27 505.84 L805.95 513.12 L808.63 520.44 L811.31 527.81 L813.99 535.21 L816.67 542.64 L819.35 550.09 L822.03 557.58 L824.71 565.09 L827.39 572.62 L830.07 580.16 L832.75 587.7 L835.43 595.25 L838.11 602.78 L840.79 610.3 L843.47 617.8 L846.15 625.26 L848.83 632.68 L851.51 640.06 L854.19 647.38 L856.87 654.64 L859.55 661.83 L862.23 668.94 L864.91 675.97 L867.59 682.91 L870.27 689.74 L872.95 696.48 L875.63 703.11 L878.31 709.64 L880.99 716.06 L883.67 722.36 L886.35 728.54 L889.03 734.59 L891.71 740.5 L894.39 746.26 L897.07 751.87 L899.75 757.32 L902.43 762.61 L905.11 767.73 L907.79 772.69 L910.47 777.47 L913.16 782.08 L915.84 786.52 L918.52 790.77 L921.2 794.85 L923.88 798.76 L926.56 802.49 L929.24 806.07 L931.92 809.55 L934.6 812.9 L937.28 816.11 L939.96 819.16 L942.64 822.06 L945.32 824.79 L948 827.35 L950.68 829.73 L953.36 831.95 L956.04 834 L958.72 835.89 L961.4 837.63 L964.08 839.21 L966.76 840.65 L969.44 841.96 L972.12 843.15 L974.8 844.22 L977.48 845.18 L980.16 846.04 L982.84 846.82 L985.52 847.56 L988.2 848.26 L990.88 848.91 L993.56 849.52 L996.24 850.09 L998.92 850.61 L1001.6 851.09 L1004.28 851.52 L1006.96 851.92 L1009.64 852.28 L1012.32 852.6 L1015 852.89 L1017.68 853.15 L1020.36 853.38 L1023.04 853.58 L1025.72 853.76 L1028.4 853.92 L1031.08 854.07 L1033.76 854.19 L1036.44 854.3 L1039.12 854.39 L1041.8 854.48 L1044.48 854.55 L1047.17 854.62 L1049.85 854.67 L1052.53 854.72 L1055.21 854.76 L1057.89 854.8 L1060.57 854.83 L1063.25 854.86 L1065.93 854.88 L1068.61 854.9 L1071.29 854.91 L1073.97 854.93 L1076.65 854.94 L1079.33 854.95 L1082.01 854.95 L1084.69 854.96 L1087.37 855.18 L1090.05 855.18 L1092.73 855.18 L1095.41 855.18 L1098.09 855.18 L1100.77 855.18 L1103.45 855.18 L1106.13 855.18 L1108.81 855.18 L1111.49 855.18 L1114.17 855.18 L1116.85 855.18 L1119.53 855.18 L1122.21 855.18 L1124.89 855.18 L1127.57 855.18 L1130.25 855.18 L1132.93 855.18 L1135.61 855.18 L1138.29 855.18 L1140.97 855.18 L1143.65 855.18 L1146.33 855.18 L1149.01 855.18 L1151.69 855.18 L1154.37 855.18 L1157.05 855.18 L1159.73 855.18 L1162.41 855.18 L1165.09 855.18 L1167.77 855.18 L1170.45 855.18 L1173.13 855.18 L1175.81 855.18 L1178.49 855.18 L1181.18 855.18 L1183.86 855.18 L1186.54 855.18 L1189.22 855.18 L1191.9 855.18 L1194.58 855.18 L1197.26 855.18 L1199.94 855.18 L1202.62 855.18 L1205.3 855.18 L1207.98 855.18 L1210.66 855.18 L1213.34 855.18 L1216.02 855.18 L1218.7 855.18 L1221.38 855.18 L1224.06 855.18 L1226.74 855.18 L1229.42 855.18 L1232.1 855.18 L1234.78 855.18 L1237.46 855.18 L1240.14 855.18 L1242.82 855.18 L1245.5 855.18" fill="none" stroke="#999999" stroke-width="3.84" stroke-linejoin="round"/>
<path d="M176.1 134.72 L178.78 134.72 L181.46 134.72 L184.14 134.72 L186.82 134.72 L189.5 134.72 L192.18 134.72 L194.86 134.72 L197.54 134.72 L200.22 134.72 L202.9 134.72 L205.58 134.72 L208.26 134.72 L210.94 134.72 L213.62 134.72 L216.3 134.72 L218.98 134.72 L221.66 134.72 L224.34 134.72 L227.02 134.72 L229.7 134.72 L232.38 134.72 L235.06 134.72 L237.74 134.72 L240.42 134.72 L243.11 134.72 L245.79 134.72 L248.47 134.72 L251.15 134.72 L253.83 134.72 L256.51 134.72 L259.19 134.72 L261.87 134.72 L264.55 134.72 L267.23 134.72 L269.91 134.72 L272.59 134.72 L275.27 134.72 L277.95 134.72 L280.63 134.72 L283.31 134.72 L285.99 134.72 L288.67 134.72 L291.35 134.72 L294.03 134.72 L296.71 134.72 L299.39 134.72 L302.07 134.72 L304.75 134.72 L307.43 134.72 L310.11 134.72 L312.79 134.72 L315.47 134.72 L318.15 134.72 L320.83 134.72 L323.51 134.72 L326.19 134.72 L328.87 134.72 L331.55 134.72 L334.23 134.72 L336.91 134.94 L339.59 134.95 L342.27 134.96 L344.95 134.97 L347.63 134.98 L350.31 135 L352.99 135.02 L355.67 135.04 L358.35 135.07 L361.03 135.1 L363.71 135.13 L366.39 135.17 L369.07 135.21 L371.75 135.25 L374.43 135.29 L377.12 135.34 L379.8 135.39 L382.48 135.44 L385.16 135.49 L387.84 135.53 L390.52 135.59 L393.2 135.65 L395.88 135.71 L398.56 135.79 L401.24 135.87 L403.92 135.95 L406.6 136.04 L409.28 136.14 L411.96 136.24 L414.64 136.35 L417.32 136.45 L420 136.56 L422.68 136.66 L425.36 136.76 L428.04 136.85 L430.72 136.94 L433.4 137 L436.08 137.06 L438.76 137.09 L441.44 137.1 L444.12 137.11 L446.8 137.11 L449.48 137.12 L452.16 137.12 L454.84 137.13 L457.52 137.13 L460.2 137.13 L462.88 137.13 L465.56 137.13 L468.24 137.14 L470.92 137.14 L473.6 137.14 L476.28 137.14 L478.96 137.14 L481.64 137.15 L484.32 137.15 L487 137.16 L489.68 137.16 L492.36 137.17 L495.04 137.17 L497.72 137.2 L500.4 137.26 L503.08 137.35 L505.76 137.47 L508.44 137.63 L511.13 137.82 L513.81 138.04 L516.49 138.3 L519.17 138.59 L521.85 138.92 L524.53 139.28 L527.21 139.68 L529.89 140.11 L532.57 140.58 L535.25 141.06 L537.93 141.57 L540.61 142.08 L543.29 142.6 L545.97 143.09 L548.65 143.56 L551.33 144.02 L554.01 144.48 L556.69 144.95 L559.37 145.42 L562.05 145.91 L564.73 146.41 L567.41 146.92 L570.09 147.44 L572.77 147.97 L575.45 148.52 L578.13 149.08 L580.81 149.66 L583.49 150.25 L586.17 150.86 L588.85 151.49 L591.53 152.15 L594.21 152.82 L596.89 153.53 L599.57 154.26 L602.25 155.03 L604.93 155.83 L607.61 156.65 L610.29 157.5 L612.97 158.37 L615.65 159.28 L618.33 160.21 L621.01 161.17 L623.69 162.16 L626.37 163.17 L629.05 164.22 L631.73 165.29 L634.41 166.4 L637.09 167.53 L639.77 168.7 L642.45 169.89 L645.14 171.12 L647.82 172.37 L650.5 173.66 L653.18 174.97 L655.86 176.32 L658.54 177.69 L661.22 179.08 L663.9 180.48 L666.58 181.9 L669.26 183.34 L671.94 184.81 L674.62 186.29 L677.3 187.81 L679.98 189.37 L682.66 190.96 L685.34 192.59 L688.02 194.27 L690.7 196.01 L693.38 197.8 L696.06 199.66 L698.74 201.6 L701.42 203.61 L704.1 205.71 L706.78 207.9 L709.46 210.19 L712.14 212.59 L714.82 215.11 L717.5 217.72 L720.18 220.45 L722.86 223.29 L725.54 226.24 L728.22 229.3 L730.9 232.48 L733.58 235.77 L736.26 239.19 L738.94 242.72 L741.62 246.37 L744.3 250.14 L746.98 254.03 L749.66 258.04 L752.34 262.17 L755.02 266.42 L757.7 270.78 L760.38 275.27 L763.06 279.86 L765.74 284.58 L768.42 289.46 L771.1 294.51 L773.78 299.73 L776.46 305.13 L779.15 310.69 L781.83 316.41 L784.51 322.28 L787.19 328.3 L789.87 334.47 L792.55 340.76 L795.23 347.19 L797.91 353.73 L800.59 360.38 L803.27 367.13 L805.95 373.96 L808.63 380.87 L811.31 387.84 L813.99 394.87 L816.67 401.94 L819.35 409.03 L822.03 416.13 L824.71 423.23 L827.39 430.33 L830.07 437.45 L832.75 444.59 L835.43 451.76 L838.11 458.97 L840.79 466.21 L843.47 473.51 L846.15 480.86 L848.83 488.28 L851.51 495.76 L854.19 503.32 L856.87 510.97 L859.55 518.7 L862.23 526.53 L864.91 534.46 L867.59 542.49 L870.27 550.62 L872.95 558.87 L875.63 567.22 L878.31 575.63 L880.99 584.11 L883.67 592.64 L886.35 601.19 L889.03 609.76 L891.71 618.32 L894.39 626.86 L897.07 635.37 L899.75 643.82 L902.43 652.21 L905.11 660.51 L907.79 668.72 L910.47 676.81 L913.16 684.77 L915.84 692.59 L918.52 700.26 L921.2 707.76 L923.88 715.09 L926.56 722.23 L929.24 729.21 L931.92 736.06 L934.6 742.76 L937.28 749.3 L939.96 755.66 L942.64 761.82 L945.32 767.77 L948 773.49 L950.68 778.98 L953.36 784.23 L956.04 789.24 L958.72 793.99 L961.4 798.5 L964.08 802.76 L966.76 806.77 L969.44 810.53 L972.12 814.06 L974.8 817.36 L977.48 820.43 L980.16 823.28 L982.84 825.93 L985.52 828.39 L988.2 830.69 L990.88 832.81 L993.56 834.78 L996.24 836.61 L998.92 838.3 L1001.6 839.85 L1004.28 841.29 L1006.96 842.61 L1009.64 843.83 L1012.32 844.95 L1015 845.97 L1017.68 846.91 L1020.36 847.76 L1023.04 848.54 L1025.72 849.25 L1028.4 849.9 L1031.08 850.48 L1033.76 851.01 L1036.44 851.5 L1039.12 851.97 L1041.8 852.42 L1044.48 852.83 L1047.17 853.2 L1049.85 853.52 L1052.53 853.8 L1055.21 854.04 L1057.89 854.24 L1060.57 854.4 L1063.25 854.53 L1065.93 854.64 L1068.61 854.72 L1071.29 854.79 L1073.97 854.85 L1076.65 854.89 L1079.33 854.92 L1082.01 854.94 L1084.69 854.95 L1087.37 855.18 L1090.05 855.18 L1092.73 855.18 L1095.41 855.18 L1098.09 855.18 L1100.77 855.18 L1103.45 855.18 L1106.13 855.18 L1108.81 855.18 L1111.49 855.18 L1114.17 855.18 L1116.85 855.18 L1119.53 855.18 L1122.21 855.18 L1124.89 855.18 L1127.57 855.18 L1130.25 855.18 L1132.93 855.18 L1135.61 855.18 L1138.29 855.18 L1140.97 855.18 L1143.65 855.18 L1146.33 855.18 L1149.01 855.18 L1151.69 855.18 L1154.37 855.18 L1157.05 855.18 L1159.73 855.18 L1162.41 855.18 L1165.09 855.18 L1167.77 855.18 L1170.45 855.18 L1173.13 855.18 L1175.81 855.18 L1178.49 855.18 L1181.18 855.18 L1183.86 855.18 L1186.54 855.18 L1189.22 855.18 L1191.9 855.18 L1194.58 855.18 L1197.26 855.18 L1199.94 855.18 L1202.62 855.18 L1205.3 855.18 L1207.98 855.18 L1210.66 855.18 L1213.34 855.18 L1216.02 855.18 L1218.7 855.18 L1221.38 855.18 L1224.06 855.18 L1226.74 855.18 L1229.42 855.18 L1232.1 855.18 L1234.78 855.18 L1237.46 855.18 L1240.14 855.18 L1242.82 855.18 L1245.5 855.18" fill="none" stroke="#999999" stroke-width="3.84" stroke-linejoin="round"/>
<path d="M176.1 145.53 L178.78 145.56 L181.46 145.6 L184.14 145.65 L186.82 145.7 L189.5 145.76 L192.18 145.83 L194.86 145.9 L197.54 145.97 L200.22 146.05 L202.9 146.14 L205.58 146.23 L208.26 146.32 L210.94 146.42 L213.62 146.52 L216.3 146.62 L218.98 146.73 L221.66 146.84 L224.34 146.95 L227.02 147.07 L229.7 147.2 L232.38 147.35 L235.06 147.5 L237.74 147.66 L240.42 147.83 L243.11 148.02 L245.79 148.21 L248.47 148.41 L251.15 148.63 L253.83 148.85 L256.51 149.08 L259.19 149.32 L261.87 149.57 L264.55 149.82 L267.23 150.09 L269.91 150.36 L272.59 150.63 L275.27 150.92 L277.95 151.21 L280.63 151.51 L283.31 151.83 L285.99 152.18 L288.67 152.55 L291.35 152.94 L294.03 153.35 L296.71 153.78 L299.39 154.23 L302.07 154.69 L304.75 155.16 L307.43 155.65 L310.11 156.15 L312.79 156.66 L315.47 157.17 L318.15 157.69 L320.83 158.21 L323.51 158.73 L326.19 159.24 L328.87 159.74 L331.55 160.23 L334.23 160.71 L336.91 161.18 L339.59 161.65 L342.27 162.11 L344.95 162.56 L347.63 163.02 L350.31 163.47 L352.99 163.93 L355.67 164.38 L358.35 164.84 L361.03 165.31 L363.71 165.77 L366.39 166.25 L369.07 166.74 L371.75 167.23 L374.43 167.74 L377.12 168.27 L379.8 168.81 L382.48 169.37 L385.16 169.96 L387.84 170.56 L390.52 171.18 L393.2 171.81 L395.88 172.46 L398.56 173.12 L401.24 173.79 L403.92 174.48 L406.6 175.19 L409.28 175.91 L411.96 176.65 L414.64 177.41 L417.32 178.19 L420 178.99 L422.68 179.82 L425.36 180.67 L428.04 181.55 L430.72 182.45 L433.4 183.38 L436.08 184.34 L438.76 185.33 L441.44 186.36 L444.12 187.45 L446.8 188.6 L449.48 189.82 L452.16 191.1 L454.84 192.44 L457.52 193.83 L460.2 195.27 L462.88 196.75 L465.56 198.27 L468.24 199.82 L470.92 201.4 L473.6 203 L476.28 204.61 L478.96 206.22 L481.64 207.83 L484.32 209.43 L487 211 L489.68 212.55 L492.36 214.05 L495.04 215.49 L497.72 216.89 L500.4 218.24 L503.08 219.56 L505.76 220.85 L508.44 222.11 L511.13 223.35 L513.81 224.57 L516.49 225.79 L519.17 227.01 L521.85 228.24 L524.53 229.48 L527.21 230.75 L529.89 232.04 L532.57 233.38 L535.25 234.76 L537.93 236.2 L540.61 237.7 L543.29 239.28 L545.97 240.95 L548.65 242.71 L551.33 244.58 L554.01 246.56 L556.69 248.65 L559.37 250.84 L562.05 253.13 L564.73 255.51 L567.41 257.98 L570.09 260.54 L572.77 263.17 L575.45 265.88 L578.13 268.65 L580.81 271.48 L583.49 274.36 L586.17 277.28 L588.85 280.24 L591.53 283.22 L594.21 286.22 L596.89 289.23 L599.57 292.24 L602.25 295.23 L604.93 298.21 L607.61 301.2 L610.29 304.2 L612.97 307.22 L615.65 310.26 L618.33 313.32 L621.01 316.41 L623.69 319.53 L626.37 322.69 L629.05 325.88 L631.73 329.12 L634.41 332.41 L637.09 335.75 L639.77 339.15 L642.45 342.61 L645.14 346.14 L647.82 349.74 L650.5 353.41 L653.18 357.17 L655.86 361.02 L658.54 364.96 L661.22 368.95 L663.9 373.01 L666.58 377.13 L669.26 381.32 L671.94 385.57 L674.62 389.9 L677.3 394.29 L679.98 398.75 L682.66 403.3 L685.34 407.91 L688.02 412.61 L690.7 417.38 L693.38 422.24 L696.06 427.18 L698.74 432.21 L701.42 437.32 L704.1 442.51 L706.78 447.8 L709.46 453.18 L712.14 458.65 L714.82 464.27 L717.5 470.01 L720.18 475.88 L722.86 481.87 L725.54 487.96 L728.22 494.15 L730.9 500.41 L733.58 506.76 L736.26 513.16 L738.94 519.61 L741.62 526.1 L744.3 532.62 L746.98 539.15 L749.66 545.68 L752.34 552.21 L755.02 558.72 L757.7 565.19 L760.38 571.62 L763.06 578 L765.74 584.32 L768.42 590.59 L771.1 596.81 L773.78 603 L776.46 609.14 L779.15 615.24 L781.83 621.3 L784.51 627.33 L787.19 633.31 L789.87 639.26 L792.55 645.17 L795.23 651.04 L797.91 656.88 L800.59 662.67 L803.27 668.43 L805.95 674.14 L808.63 679.82 L811.31 685.45 L813.99 691.04 L816.67 696.58 L819.35 702.08 L822.03 707.51 L824.71 712.87 L827.39 718.15 L830.07 723.34 L832.75 728.46 L835.43 733.49 L838.11 738.44 L840.79 743.29 L843.47 748.05 L846.15 752.72 L848.83 757.28 L851.51 761.75 L854.19 766.12 L856.87 770.38 L859.55 774.54 L862.23 778.59 L864.91 782.53 L867.59 786.35 L870.27 790.07 L872.95 793.67 L875.63 797.14 L878.31 800.47 L880.99 803.68 L883.67 806.75 L886.35 809.71 L889.03 812.54 L891.71 815.27 L894.39 817.88 L897.07 820.38 L899.75 822.78 L902.43 825.07 L905.11 827.27 L907.79 829.36 L910.47 831.35 L913.16 833.25 L915.84 835.06 L918.52 836.77 L921.2 838.38 L923.88 839.91 L926.56 841.34 L929.24 842.74 L931.92 844.14 L934.6 845.51 L937.28 846.8 L939.96 847.99 L942.64 849.07 L945.32 850.02 L948 850.84 L950.68 851.55 L953.36 852.15 L956.04 852.65 L958.72 853.07 L961.4 853.41 L964.08 853.68 L966.76 853.9 L969.44 854.07 L972.12 854.21 L974.8 854.31 L977.48 854.39 L980.16 854.45 L982.84 854.48 L985.52 854.52 L988.2 854.55 L990.88 854.58 L993.56 854.61 L996.24 854.64 L998.92 854.66 L1001.6 854.69 L1004.28 854.71 L1006.96 854.73 L1009.64 854.75 L1012.32 854.77 L1015 854.78 L1017.68 854.8 L1020.36 854.81 L1023.04 854.83 L1025.72 854.84 L1028.4 854.85 L1031.08 854.86 L1033.76 854.87 L1036.44 854.88 L1039.12 854.89 L1041.8 854.9 L1044.48 854.91 L1047.17 854.91 L1049.85 854.92 L1052.53 854.92 L1055.21 854.93 L1057.89 854.94 L1060.57 854.94 L1063.25 854.94 L1065.93 854.95 L1068.61 854.95 L1071.29 854.95 L1073.97 854.96 L1076.65 854.96 L1079.33 854.96 L1082.01 855.18 L1084.69 855.18 L1087.37 855.18 L1090.05 855.18 L1092.73 855.18 L1095.41 855.18 L1098.09 855.18 L1100.77 855.18 L1103.45 855.18 L1106.13 855.18 L1108.81 855.18 L1111.49 855.18 L1114.17 855.18 L1116.85 855.18 L1119.53 855.18 L1122.21 855.18 L1124.89 855.18 L1127.57 855.18 L1130.25 855.18 L1132.93 855.18 L1135.61 855.18 L1138.29 855.18 L1140.97 855.18 L1143.65 855.18 L1146.33 855.18 L1149.01 855.18 L1151.69 855.18 L1154.37 855.18 L1157.05 855.18 L1159.73 855.18 L1162.41 855.18 L1165.09 855.18 L1167.77 855.18 L1170.45 855.18 L1173.13 855.18 L1175.81 855.18 L1178.49 855.18 L1181.18 855.18 L1183.86 855.18 L1186.54 855.18 L1189.22 855.18 L1191.9 855.18 L1194.58 855.18 L1197.26 855.18 L1199.94 855.18 L1202.62 855.18 L1205.3 855.18 L1207.98 855.18 L1210.66 855.18 L1213.34 855.18 L1216.02 855.18 L1218.7 855.18 L1221.38 855.18 L1224.06 855.18 L1226.74 855.18 L1229.42 855.18 L1232.1 855.18 L1234.78 855.18 L1237.46 855.18 L1240.14 855.18 L1242.82 855.18 L1245.5 855.18" fill="none" stroke="#999999" stroke-width="3.84" stroke-linejoin="round"/>
<rect x="217.91" y="158.4" width="6.8" height="14.6" fill="none" stroke="#000" stroke-width="1.3"/>
<rect x="325.93" y="190.1" width="6.8" height="14.6" fill="none" stroke="#000" stroke-width="1.3"/>
<rect x="433.95" y="260.71" width="6.8" height="14.6" fill="none" stroke="#000" stroke-width="1.3"/>
<rect x="541.97" y="378.86" width="6.8" height="14.6" fill="none" stroke="#000" stroke-width="1.3"/>
<rect x="649.99" y="576.27" width="6.8" height="14.6" fill="none" stroke="#000" stroke-width="1.3"/>
<rect x="758.01" y="759.98" width="6.8" height="14.6" fill="none" stroke="#000" stroke-width="1.3"/>
<rect x="866.03" y="843.19" width="6.8" height="14.6" fill="none" stroke="#000" stroke-width="1.3"/>
<rect x="974.05" y="847.88" width="6.8" height="14.6" fill="none" stroke="#000" stroke-width="1.3"/>
<rect x="1082.07" y="847.88" width="6.8" height="14.6" fill="none" stroke="#000" stroke-width="1.3"/>
<rect x="1190.09" y="847.88" width="6.8" height="14.6" fill="none" stroke="#000" stroke-width="1.3"/>
<path d="M224.71 137.97L235.31 156.34L214.1 156.34Z" fill="#000"/>
<path d="M332.73 155.98L343.34 174.35L322.12 174.35Z" fill="#000"/>
<path d="M440.75 189.48L451.36 207.85L430.14 207.85Z" fill="#000"/>
<path d="M548.77 277.37L559.38 295.74L538.16 295.74Z" fill="#000"/>
<path d="M656.79 438.76L667.4 457.13L646.18 457.13Z" fill="#000"/>
<path d="M764.81 667.86L775.42 686.23L754.2 686.23Z" fill="#000"/>
<path d="M872.83 816.27L883.44 834.64L862.22 834.64Z" fill="#000"/>
<path d="M980.85 842.93L991.46 861.3L970.24 861.3Z" fill="#000"/>
<path d="M1088.87 842.93L1099.48 861.3L1078.26 861.3Z" fill="#000"/>
<path d="M1196.89 842.93L1207.5 861.3L1186.29 861.3Z" fill="#000"/>
<rect x="216.83" y="130.45" width="15.75" height="15.75" fill="#000"/>
<rect x="324.85" y="136.93" width="15.75" height="15.75" fill="#000"/>
<rect x="432.87" y="153.14" width="15.75" height="15.75" fill="#000"/>
<rect x="540.89" y="198.89" width="15.75" height="15.75" fill="#000"/>
<rect x="648.91" y="317.05" width="15.75" height="15.75" fill="#000"/>
<rect x="756.94" y="548.03" width="15.75" height="15.75" fill="#000"/>
<rect x="864.96" y="785.63" width="15.75" height="15.75" fill="#000"/>
<rect x="972.98" y="846.58" width="15.75" height="15.75" fill="#000"/>
<rect x="1081" y="847.3" width="15.75" height="15.75" fill="#000"/>
<rect x="1189.02" y="847.3" width="15.75" height="15.75" fill="#000"/>
<path d="M213.57 135.8H235.85M224.71 124.67V146.94" stroke="#000" stroke-width="2.4" stroke-linecap="round" fill="none"/>
<path d="M321.59 138.33H343.87M332.73 127.19V149.46" stroke="#000" stroke-width="2.4" stroke-linecap="round" fill="none"/>
<path d="M429.61 146.25H451.89M440.75 135.11V157.39" stroke="#000" stroke-width="2.4" stroke-linecap="round" fill="none"/>
<path d="M537.63 172.62H559.91M548.77 161.48V183.76" stroke="#000" stroke-width="2.4" stroke-linecap="round" fill="none"/>
<path d="M645.65 239.91H667.93M656.79 228.77V251.05" stroke="#000" stroke-width="2.4" stroke-linecap="round" fill="none"/>
<path d="M753.67 409.22H775.95M764.81 398.08V420.35" stroke="#000" stroke-width="2.4" stroke-linecap="round" fill="none"/>
<path d="M861.69 696.17H883.97M872.83 685.04V707.31" stroke="#000" stroke-width="2.4" stroke-linecap="round" fill="none"/>
<path d="M969.71 846.24H991.99M980.85 835.11V857.38" stroke="#000" stroke-width="2.4" stroke-linecap="round" fill="none"/>
<path d="M1077.73 855.18H1100.01M1088.87 844.04V866.31" stroke="#000" stroke-width="2.4" stroke-linecap="round" fill="none"/>
<path d="M1185.75 855.18H1208.03M1196.89 844.04V866.31" stroke="#000" stroke-width="2.4" stroke-linecap="round" fill="none"/>
<path d="M216.83 126.85H232.58V142.6H216.83ZM216.83 126.85L232.58 142.6M216.83 142.6L232.58 126.85" stroke="#000" stroke-width="2.4" stroke-linecap="round" stroke-linejoin="round" fill="none"/>
<path d="M324.85 127.06H340.6V142.81H324.85ZM324.85 127.06L340.6 142.81M324.85 142.81L340.6 127.06" stroke="#000" stroke-width="2.4" stroke-linecap="round" stroke-linejoin="round" fill="none"/>
<path d="M432.87 129.23H448.62V144.98H432.87ZM432.87 129.23L448.62 144.98M432.87 144.98L448.62 129.23" stroke="#000" stroke-width="2.4" stroke-linecap="round" stroke-linejoin="round" fill="none"/>
<path d="M540.89 135.71H556.64V151.46H540.89ZM540.89 135.71L556.64 151.46M540.89 151.46L556.64 135.71" stroke="#000" stroke-width="2.4" stroke-linecap="round" stroke-linejoin="round" fill="none"/>
<path d="M648.91 168.92H664.66V184.67H648.91ZM648.91 168.92L664.66 184.67M648.91 184.67L664.66 168.92" stroke="#000" stroke-width="2.4" stroke-linecap="round" stroke-linejoin="round" fill="none"/>
<path d="M756.94 275.05H772.69V290.8H756.94ZM756.94 275.05L772.69 290.8M756.94 290.8L772.69 275.05" stroke="#000" stroke-width="2.4" stroke-linecap="round" stroke-linejoin="round" fill="none"/>
<path d="M864.96 550.62H880.71V566.37H864.96ZM864.96 550.62L880.71 566.37M864.96 566.37L880.71 550.62" stroke="#000" stroke-width="2.4" stroke-linecap="round" stroke-linejoin="round" fill="none"/>
<path d="M972.98 816.11H988.73V831.86H972.98ZM972.98 816.11L988.73 831.86M972.98 831.86L988.73 816.11" stroke="#000" stroke-width="2.4" stroke-linecap="round" stroke-linejoin="round" fill="none"/>
<path d="M1081 847.3H1096.75V863.05H1081ZM1081 847.3L1096.75 863.05M1081 863.05L1096.75 847.3" stroke="#000" stroke-width="2.4" stroke-linecap="round" stroke-linejoin="round" fill="none"/>
<path d="M1189.02 847.3H1204.77V863.05H1189.02ZM1189.02 847.3L1204.77 863.05M1189.02 863.05L1204.77 847.3" stroke="#000" stroke-width="2.4" stroke-linecap="round" stroke-linejoin="round" fill="none"/>
<path d="M213.57 146.97H235.85M224.71 135.83V158.11M216.83 139.1L232.58 154.85M216.83 154.85L232.58 139.1" stroke="#000" stroke-width="2.4" stroke-linecap="round" fill="none"/>
<path d="M321.59 160.44H343.87M332.73 149.31V171.58M324.85 152.57L340.6 168.32M324.85 168.32L340.6 152.57" stroke="#000" stroke-width="2.4" stroke-linecap="round" fill="none"/>
<path d="M429.61 186.09H451.89M440.75 174.95V197.23M432.87 178.22L448.62 193.97M432.87 193.97L448.62 178.22" stroke="#000" stroke-width="2.4" stroke-linecap="round" fill="none"/>
<path d="M537.63 242.79H559.91M548.77 231.65V253.93M540.89 234.92L556.64 250.67M540.89 250.67L556.64 234.92" stroke="#000" stroke-width="2.4" stroke-linecap="round" fill="none"/>
<path d="M645.65 362.39H667.93M656.79 351.25V373.52M648.91 354.51L664.66 370.26M648.91 370.26L664.66 354.51" stroke="#000" stroke-width="2.4" stroke-linecap="round" fill="none"/>
<path d="M753.67 582.12H775.95M764.81 570.99V593.26M756.94 574.25L772.69 590M756.94 590L772.69 574.25" stroke="#000" stroke-width="2.4" stroke-linecap="round" fill="none"/>
<path d="M861.69 793.51H883.97M872.83 782.37V804.64M864.96 785.63L880.71 801.38M864.96 801.38L880.71 785.63" stroke="#000" stroke-width="2.4" stroke-linecap="round" fill="none"/>
<path d="M969.71 854.46H991.99M980.85 843.32V865.59M972.98 846.58L988.73 862.33M972.98 862.33L988.73 846.58" stroke="#000" stroke-width="2.4" stroke-linecap="round" fill="none"/>
<path d="M1077.73 855.18H1100.01M1088.87 844.04V866.31M1081 847.3L1096.75 863.05M1081 863.05L1096.75 847.3" stroke="#000" stroke-width="2.4" stroke-linecap="round" fill="none"/>
<path d="M1185.75 855.18H1208.03M1196.89 844.04V866.31M1189.02 847.3L1204.77 863.05M1189.02 863.05L1204.77 847.3" stroke="#000" stroke-width="2.4" stroke-linecap="round" fill="none"/>
<line x1="176.1" x2="1245.5" y1="206.77" y2="206.77" stroke="#000" stroke-width="3.84" stroke-dasharray="17.42 17.42"/>
</g>
<rect x="177.05" y="99.65" width="1067.5" height="790.6" fill="none" stroke="#333333" stroke-width="1.9"/>
<line x1="224.71" x2="224.71" y1="891.2" y2="902.6" stroke="#333333" stroke-width="3.84"/>
<text x="224.71" y="938" text-anchor="middle" font-size="36.67" fill="#4D4D4D" font-family="'Liberation Sans', Arial, sans-serif">0.125</text>
<line x1="332.73" x2="332.73" y1="891.2" y2="902.6" stroke="#333333" stroke-width="3.84"/>
<text x="332.73" y="938" text-anchor="middle" font-size="36.67" fill="#4D4D4D" font-family="'Liberation Sans', Arial, sans-serif">0.25</text>
<line x1="440.75" x2="440.75" y1="891.2" y2="902.6" stroke="#333333" stroke-width="3.84"/>
<text x="440.75" y="938" text-anchor="middle" font-size="36.67" fill="#4D4D4D" font-family="'Liberation Sans', Arial, sans-serif">0.5</text>
<line x1="548.77" x2="548.77" y1="891.2" y2="902.6" stroke="#333333" stroke-width="3.84"/>
<text x="548.77" y="938" text-anchor="middle" font-size="36.67" fill="#4D4D4D" font-family="'Liberation Sans', Arial, sans-serif">1</text>
<line x1="656.79" x2="656.79" y1="891.2" y2="902.6" stroke="#333333" stroke-width="3.84"/>
<text x="656.79" y="938" text-anchor="middle" font-size="36.67" fill="#4D4D4D" font-family="'Liberation Sans', Arial, sans-serif">2</text>
<line x1="764.81" x2="764.81" y1="891.2" y2="902.6" stroke="#333333" stroke-width="3.84"/>
<text x="764.81" y="938" text-anchor="middle" font-size="36.67" fill="#4D4D4D" font-family="'Liberation Sans', Arial, sans-serif">4</text>
<line x1="872.83" x2="872.83" y1="891.2" y2="902.6" stroke="#333333" stroke-width="3.84"/>
<text x="872.83" y="938" text-anchor="middle" font-size="36.67" fill="#4D4D4D" font-family="'Liberation Sans', Arial, sans-serif">8</text>
<line x1="980.85" x2="980.85" y1="891.2" y2="902.6" stroke="#333333" stroke-width="3.84"/>
<text x="980.85" y="938" text-anchor="middle" font-size="36.67" fill="#4D4D4D" font-family="'Liberation Sans', Arial, sans-serif">16</text>
<line x1="1088.87" x2="1088.87" y1="891.2" y2="902.6" stroke="#333333" stroke-width="3.84"/>
<text x="1088.87" y="938" text-anchor="middle" font-size="36.67" fill="#4D4D4D" font-family="'Liberation Sans', Arial, sans-serif">32</text>
<line x1="1196.89" x2="1196.89" y1="891.2" y2="902.6" stroke="#333333" stroke-width="3.84"/>
<text x="1196.89" y="938" text-anchor="middle" font-size="36.67" fill="#4D4D4D" font-family="'Liberation Sans', Arial, sans-serif">64</text>
<rect x="1269.35" y="29.65" width="1067.5" height="67.9" fill="#D9D9D9" stroke="#333333" stroke-width="1.9"/>
<text x="1803.1" y="76.2" text-anchor="middle" font-size="36.67" fill="#1A1A1A" font-family="'Liberation Sans', Arial, sans-serif">60%fT&gt;MIC</text>
<g clip-path="url(#cp1)">
<line x1="1268.4" x2="2337.8" y1="765.12" y2="765.12" stroke="#EBEBEB" stroke-width="1.92"/>
<line x1="1268.4" x2="2337.8" y1="585.01" y2="585.01" stroke="#EBEBEB" stroke-width="1.92"/>
<line x1="1268.4" x2="2337.8" y1="404.89" y2="404.89" stroke="#EBEBEB" stroke-width="1.92"/>
<line x1="1268.4" x2="2337.8" y1="224.78" y2="224.78" stroke="#EBEBEB" stroke-width="1.92"/>
<line x1="1371.02" x2="1371.02" y1="98.7" y2="891.2" stroke="#EBEBEB" stroke-width="1.92"/>
<line x1="1479.04" x2="1479.04" y1="98.7" y2="891.2" stroke="#EBEBEB" stroke-width="1.92"/>
<line x1="1587.06" x2="1587.06" y1="98.7" y2="891.2" stroke="#EBEBEB" stroke-width="1.92"/>
<line x1="1695.08" x2="1695.08" y1="98.7" y2="891.2" stroke="#EBEBEB" stroke-width="1.92"/>
<line x1="1803.1" x2="1803.1" y1="98.7" y2="891.2" stroke="#EBEBEB" stroke-width="1.92"/>
<line x1="1911.12" x2="1911.12" y1="98.7" y2="891.2" stroke="#EBEBEB" stroke-width="1.92"/>
<line x1="2019.14" x2="2019.14" y1="98.7" y2="891.2" stroke="#EBEBEB" stroke-width="1.92"/>
<line x1="2127.16" x2="2127.16" y1="98.7" y2="891.2" stroke="#EBEBEB" stroke-width="1.92"/>
<line x1="2235.18" x2="2235.18" y1="98.7" y2="891.2" stroke="#EBEBEB" stroke-width="1.92"/>
<line x1="1268.4" x2="2337.8" y1="855.18" y2="855.18" stroke="#EBEBEB" stroke-width="3.84"/>
<line x1="1268.4" x2="2337.8" y1="675.06" y2="675.06" stroke="#EBEBEB" stroke-width="3.84"/>
<line x1="1268.4" x2="2337.8" y1="494.95" y2="494.95" stroke="#EBEBEB" stroke-width="3.84"/>
<line x1="1268.4" x2="2337.8" y1="314.84" y2="314.84" stroke="#EBEBEB" stroke-width="3.84"/>
<line x1="1268.4" x2="2337.8" y1="134.72" y2="134.72" stroke="#EBEBEB" stroke-width="3.84"/>
<line x1="1317.01" x2="1317.01" y1="98.7" y2="891.2" stroke="#EBEBEB" stroke-width="3.84"/>
<line x1="1425.03" x2="1425.03" y1="98.7" y2="891.2" stroke="#EBEBEB" stroke-width="3.84"/>
<line x1="1533.05" x2="1533.05" y1="98.7" y2="891.2" stroke="#EBEBEB" stroke-width="3.84"/>
<line x1="1641.07" x2="1641.07" y1="98.7" y2="891.2" stroke="#EBEBEB" stroke-width="3.84"/>
<line x1="1749.09" x2="1749.09" y1="98.7" y2="891.2" stroke="#EBEBEB" stroke-width="3.84"/>
<line x1="1857.11" x2="1857.11" y1="98.7" y2="891.2" stroke="#EBEBEB" stroke-width="3.84"/>
<line x1="1965.13" x2="1965.13" y1="98.7" y2="891.2" stroke="#EBEBEB" stroke-width="3.84"/>
<line x1="2073.15" x2="2073.15" y1="98.7" y2="891.2" stroke="#EBEBEB" stroke-width="3.84"/>
<line x1="2181.17" x2="2181.17" y1="98.7" y2="891.2" stroke="#EBEBEB" stroke-width="3.84"/>
<line x1="2289.19" x2="2289.19" y1="98.7" y2="891.2" stroke="#EBEBEB" stroke-width="3.84"/>
<rect x="1308.51" y="125.72" width="10.2" height="18" fill="#fff"/>
<rect x="1416.53" y="127.16" width="10.2" height="18" fill="#fff"/>
<rect x="1524.55" y="130.77" width="10.2" height="18" fill="#fff"/>
<rect x="1632.57" y="143.95" width="10.2" height="18" fill="#fff"/>
<rect x="1740.59" y="202.52" width="10.2" height="18" fill="#fff"/>
<rect x="1848.61" y="396.11" width="10.2" height="18" fill="#fff"/>
<rect x="1956.63" y="731.19" width="10.2" height="18" fill="#fff"/>
<rect x="2064.65" y="846.18" width="10.2" height="18" fill="#fff"/>
<rect x="2172.67" y="846.18" width="10.2" height="18" fill="#fff"/>
<rect x="2280.69" y="846.18" width="10.2" height="18" fill="#fff"/>
<path d="M1268.4 134.72 L1271.08 134.72 L1273.76 134.72 L1276.44 134.72 L1279.12 134.72 L1281.8 134.72 L1284.48 134.72 L1287.16 134.72 L1289.84 134.72 L1292.52 134.72 L1295.2 134.72 L1297.88 134.72 L1300.56 134.72 L1303.24 134.72 L1305.92 134.72 L1308.6 134.72 L1311.28 134.72 L1313.96 134.72 L1316.64 134.72 L1319.32 134.72 L1322 134.72 L1324.68 134.94 L1327.36 134.95 L1330.04 134.95 L1332.72 134.96 L1335.41 134.97 L1338.09 134.97 L1340.77 134.98 L1343.45 134.99 L1346.13 135.01 L1348.81 135.02 L1351.49 135.03 L1354.17 135.05 L1356.85 135.07 L1359.53 135.09 L1362.21 135.11 L1364.89 135.13 L1367.57 135.16 L1370.25 135.18 L1372.93 135.21 L1375.61 135.25 L1378.29 135.28 L1380.97 135.32 L1383.65 135.35 L1386.33 135.39 L1389.01 135.44 L1391.69 135.48 L1394.37 135.53 L1397.05 135.58 L1399.73 135.63 L1402.41 135.68 L1405.09 135.74 L1407.77 135.8 L1410.45 135.85 L1413.13 135.91 L1415.81 135.97 L1418.49 136.03 L1421.17 136.08 L1423.85 136.14 L1426.53 136.19 L1429.21 136.25 L1431.89 136.31 L1434.57 136.36 L1437.25 136.42 L1439.93 136.48 L1442.61 136.55 L1445.29 136.61 L1447.97 136.67 L1450.65 136.74 L1453.33 136.81 L1456.01 136.88 L1458.69 136.95 L1461.37 137.02 L1464.05 137.09 L1466.73 137.17 L1469.42 137.25 L1472.1 137.32 L1474.78 137.41 L1477.46 137.49 L1480.14 137.57 L1482.82 137.66 L1485.5 137.75 L1488.18 137.84 L1490.86 137.93 L1493.54 138.03 L1496.22 138.12 L1498.9 138.22 L1501.58 138.33 L1504.26 138.43 L1506.94 138.54 L1509.62 138.65 L1512.3 138.76 L1514.98 138.88 L1517.66 139 L1520.34 139.13 L1523.02 139.25 L1525.7 139.38 L1528.38 139.52 L1531.06 139.66 L1533.74 139.8 L1536.42 139.95 L1539.1 140.1 L1541.78 140.24 L1544.46 140.4 L1547.14 140.55 L1549.82 140.7 L1552.5 140.86 L1555.18 141.03 L1557.86 141.19 L1560.54 141.37 L1563.22 141.54 L1565.9 141.73 L1568.58 141.92 L1571.26 142.12 L1573.94 142.33 L1576.62 142.55 L1579.3 142.78 L1581.98 143.02 L1584.66 143.27 L1587.34 143.54 L1590.02 143.83 L1592.7 144.14 L1595.38 144.46 L1598.06 144.81 L1600.74 145.17 L1603.43 145.56 L1606.11 145.96 L1608.79 146.39 L1611.47 146.84 L1614.15 147.3 L1616.83 147.79 L1619.51 148.29 L1622.19 148.81 L1624.87 149.35 L1627.55 149.91 L1630.23 150.49 L1632.91 151.08 L1635.59 151.68 L1638.27 152.3 L1640.95 152.92 L1643.63 153.56 L1646.31 154.2 L1648.99 154.86 L1651.67 155.54 L1654.35 156.23 L1657.03 156.93 L1659.71 157.66 L1662.39 158.4 L1665.07 159.17 L1667.75 159.96 L1670.43 160.78 L1673.11 161.63 L1675.79 162.51 L1678.47 163.43 L1681.15 164.39 L1683.83 165.39 L1686.51 166.44 L1689.19 167.55 L1691.87 168.7 L1694.55 169.92 L1697.23 171.21 L1699.91 172.57 L1702.59 174 L1705.27 175.52 L1707.95 177.11 L1710.63 178.78 L1713.31 180.53 L1715.99 182.36 L1718.67 184.27 L1721.35 186.26 L1724.03 188.34 L1726.71 190.5 L1729.39 192.74 L1732.07 195.06 L1734.75 197.46 L1737.44 199.93 L1740.12 202.48 L1742.8 205.1 L1745.48 207.79 L1748.16 210.55 L1750.84 213.37 L1753.52 216.29 L1756.2 219.3 L1758.88 222.41 L1761.56 225.61 L1764.24 228.92 L1766.92 232.32 L1769.6 235.83 L1772.28 239.43 L1774.96 243.14 L1777.64 246.95 L1780.32 250.86 L1783 254.87 L1785.68 258.98 L1788.36 263.2 L1791.04 267.52 L1793.72 271.94 L1796.4 276.45 L1799.08 281.07 L1801.76 285.79 L1804.44 290.59 L1807.12 295.47 L1809.8 300.41 L1812.48 305.42 L1815.16 310.51 L1817.84 315.68 L1820.52 320.95 L1823.2 326.3 L1825.88 331.76 L1828.56 337.32 L1831.24 343 L1833.92 348.8 L1836.6 354.72 L1839.28 360.79 L1841.96 366.99 L1844.64 373.35 L1847.32 379.86 L1850 386.54 L1852.68 393.39 L1855.36 400.43 L1858.04 407.65 L1860.72 415.06 L1863.4 422.65 L1866.08 430.42 L1868.76 438.35 L1871.45 446.44 L1874.13 454.67 L1876.81 463.04 L1879.49 471.54 L1882.17 480.15 L1884.85 488.86 L1887.53 497.66 L1890.21 506.53 L1892.89 515.46 L1895.57 524.44 L1898.25 533.46 L1900.93 542.49 L1903.61 551.52 L1906.29 560.54 L1908.97 569.53 L1911.65 578.48 L1914.33 587.39 L1917.01 596.27 L1919.69 605.1 L1922.37 613.88 L1925.05 622.6 L1927.73 631.25 L1930.41 639.82 L1933.09 648.31 L1935.77 656.7 L1938.45 664.99 L1941.13 673.18 L1943.81 681.24 L1946.49 689.18 L1949.17 696.98 L1951.85 704.64 L1954.53 712.14 L1957.21 719.49 L1959.89 726.67 L1962.57 733.67 L1965.25 740.5 L1967.93 747.22 L1970.61 753.89 L1973.29 760.44 L1975.97 766.83 L1978.65 773.32 L1981.33 779.54 L1984.01 784.54 L1986.69 788.69 L1989.37 792.34 L1992.05 795.72 L1994.73 799.01 L1997.41 802.38 L2000.09 805.92 L2002.77 809.39 L2005.46 812.74 L2008.14 815.99 L2010.82 819.16 L2013.5 822.25 L2016.18 825.27 L2018.86 828.21 L2021.54 831.07 L2024.22 833.85 L2026.9 836.83 L2029.58 839.8 L2032.26 842.48 L2034.94 844.71 L2037.62 846.44 L2040.3 847.68 L2042.98 848.53 L2045.66 849.16 L2048.34 849.64 L2051.02 850.07 L2053.7 850.48 L2056.38 850.92 L2059.06 851.42 L2061.74 851.98 L2064.42 852.59 L2067.1 853.81 L2069.78 854.7 L2072.46 854.95 L2075.14 855.18 L2077.82 855.18 L2080.5 855.18 L2083.18 855.18 L2085.86 855.18 L2088.54 855.18 L2091.22 855.18 L2093.9 855.18 L2096.58 855.18 L2099.26 855.18 L2101.94 855.18 L2104.62 855.18 L2107.3 855.18 L2109.98 855.18 L2112.66 855.18 L2115.34 855.18 L2118.02 855.18 L2120.7 855.18 L2123.38 855.18 L2126.06 855.18 L2128.74 855.18 L2131.42 855.18 L2134.1 855.18 L2136.78 855.18 L2139.47 855.18 L2142.15 855.18 L2144.83 855.18 L2147.51 855.18 L2150.19 855.18 L2152.87 855.18 L2155.55 855.18 L2158.23 855.18 L2160.91 855.18 L2163.59 855.18 L2166.27 855.18 L2168.95 855.18 L2171.63 855.18 L2174.31 855.18 L2176.99 855.18 L2179.67 855.18 L2182.35 855.18 L2185.03 855.18 L2187.71 855.18 L2190.39 855.18 L2193.07 855.18 L2195.75 855.18 L2198.43 855.18 L2201.11 855.18 L2203.79 855.18 L2206.47 855.18 L2209.15 855.18 L2211.83 855.18 L2214.51 855.18 L2217.19 855.18 L2219.87 855.18 L2222.55 855.18 L2225.23 855.18 L2227.91 855.18 L2230.59 855.18 L2233.27 855.18 L2235.95 855.18 L2238.63 855.18 L2241.31 855.18 L2243.99 855.18 L2246.67 855.18 L2249.35 855.18 L2252.03 855.18 L2254.71 855.18 L2257.39 855.18 L2260.07 855.18 L2262.75 855.18 L2265.43 855.18 L2268.11 855.18 L2270.79 855.18 L2273.48 855.18 L2276.16 855.18 L2278.84 855.18 L2281.52 855.18 L2284.2 855.18 L2286.88 855.18 L2289.56 855.18 L2292.24 855.18 L2294.92 855.18 L2297.6 855.18 L2300.28 855.18 L2302.96 855.18 L2305.64 855.18 L2308.32 855.18 L2311 855.18 L2313.68 855.18 L2316.36 855.18 L2319.04 855.18 L2321.72 855.18 L2324.4 855.18 L2327.08 855.18 L2329.76 855.18 L2332.44 855.18 L2335.12 855.18 L2337.8 855.18" fill="none" stroke="#999999" stroke-width="3.84" stroke-linejoin="round"/>
<path d="M1268.4 134.72 L1271.08 134.72 L1273.76 134.72 L1276.44 134.72 L1279.12 134.72 L1281.8 134.72 L1284.48 134.72 L1287.16 134.72 L1289.84 134.72 L1292.52 134.72 L1295.2 134.72 L1297.88 134.72 L1300.56 134.72 L1303.24 134.72 L1305.92 134.72 L1308.6 134.72 L1311.28 134.72 L1313.96 134.72 L1316.64 134.72 L1319.32 134.72 L1322 134.72 L1324.68 134.72 L1327.36 134.72 L1330.04 134.72 L1332.72 134.72 L1335.41 134.72 L1338.09 134.72 L1340.77 134.72 L1343.45 134.72 L1346.13 134.72 L1348.81 134.72 L1351.49 134.72 L1354.17 134.72 L1356.85 134.72 L1359.53 134.72 L1362.21 134.72 L1364.89 134.72 L1367.57 134.72 L1370.25 134.72 L1372.93 134.72 L1375.61 134.72 L1378.29 134.72 L1380.97 134.72 L1383.65 134.72 L1386.33 134.72 L1389.01 134.72 L1391.69 134.72 L1394.37 134.72 L1397.05 134.72 L1399.73 134.72 L1402.41 134.72 L1405.09 134.72 L1407.77 134.72 L1410.45 134.72 L1413.13 134.72 L1415.81 134.72 L1418.49 134.72 L1421.17 134.72 L1423.85 134.72 L1426.53 134.72 L1429.21 134.72 L1431.89 134.94 L1434.57 134.95 L1437.25 134.95 L1439.93 134.96 L1442.61 134.97 L1445.29 134.97 L1447.97 134.98 L1450.65 135 L1453.33 135.01 L1456.01 135.02 L1458.69 135.04 L1461.37 135.06 L1464.05 135.08 L1466.73 135.1 L1469.42 135.12 L1472.1 135.15 L1474.78 135.17 L1477.46 135.2 L1480.14 135.24 L1482.82 135.27 L1485.5 135.31 L1488.18 135.34 L1490.86 135.39 L1493.54 135.43 L1496.22 135.47 L1498.9 135.52 L1501.58 135.57 L1504.26 135.62 L1506.94 135.67 L1509.62 135.73 L1512.3 135.78 L1514.98 135.83 L1517.66 135.89 L1520.34 135.94 L1523.02 135.99 L1525.7 136.04 L1528.38 136.09 L1531.06 136.13 L1533.74 136.17 L1536.42 136.21 L1539.1 136.25 L1541.78 136.28 L1544.46 136.31 L1547.14 136.34 L1549.82 136.37 L1552.5 136.4 L1555.18 136.43 L1557.86 136.46 L1560.54 136.48 L1563.22 136.51 L1565.9 136.54 L1568.58 136.58 L1571.26 136.61 L1573.94 136.65 L1576.62 136.69 L1579.3 136.73 L1581.98 136.78 L1584.66 136.83 L1587.34 136.89 L1590.02 136.96 L1592.7 137.04 L1595.38 137.13 L1598.06 137.23 L1600.74 137.34 L1603.43 137.47 L1606.11 137.61 L1608.79 137.76 L1611.47 137.92 L1614.15 138.09 L1616.83 138.28 L1619.51 138.48 L1622.19 138.69 L1624.87 138.92 L1627.55 139.16 L1630.23 139.4 L1632.91 139.66 L1635.59 139.92 L1638.27 140.2 L1640.95 140.47 L1643.63 140.76 L1646.31 141.07 L1648.99 141.39 L1651.67 141.73 L1654.35 142.1 L1657.03 142.48 L1659.71 142.88 L1662.39 143.31 L1665.07 143.75 L1667.75 144.21 L1670.43 144.69 L1673.11 145.19 L1675.79 145.71 L1678.47 146.25 L1681.15 146.8 L1683.83 147.36 L1686.51 147.94 L1689.19 148.53 L1691.87 149.13 L1694.55 149.73 L1697.23 150.34 L1699.91 150.96 L1702.59 151.57 L1705.27 152.2 L1707.95 152.83 L1710.63 153.47 L1713.31 154.13 L1715.99 154.79 L1718.67 155.47 L1721.35 156.16 L1724.03 156.87 L1726.71 157.6 L1729.39 158.36 L1732.07 159.14 L1734.75 159.96 L1737.44 160.8 L1740.12 161.69 L1742.8 162.61 L1745.48 163.59 L1748.16 164.61 L1750.84 165.69 L1753.52 166.81 L1756.2 167.96 L1758.88 169.16 L1761.56 170.4 L1764.24 171.69 L1766.92 173.02 L1769.6 174.41 L1772.28 175.86 L1774.96 177.36 L1777.64 178.92 L1780.32 180.55 L1783 182.25 L1785.68 184.02 L1788.36 185.87 L1791.04 187.79 L1793.72 189.81 L1796.4 191.92 L1799.08 194.12 L1801.76 196.43 L1804.44 198.84 L1807.12 201.39 L1809.8 204.08 L1812.48 206.91 L1815.16 209.88 L1817.84 213 L1820.52 216.27 L1823.2 219.68 L1825.88 223.25 L1828.56 226.96 L1831.24 230.83 L1833.92 234.84 L1836.6 239 L1839.28 243.31 L1841.96 247.76 L1844.64 252.36 L1847.32 257.09 L1850 261.95 L1852.68 266.93 L1855.36 272.04 L1858.04 277.26 L1860.72 282.62 L1863.4 288.11 L1866.08 293.75 L1868.76 299.54 L1871.45 305.48 L1874.13 311.57 L1876.81 317.82 L1879.49 324.22 L1882.17 330.78 L1884.85 337.51 L1887.53 344.39 L1890.21 351.44 L1892.89 358.66 L1895.57 366.05 L1898.25 373.6 L1900.93 381.33 L1903.61 389.22 L1906.29 397.28 L1908.97 405.51 L1911.65 413.91 L1914.33 422.48 L1917.01 431.23 L1919.69 440.14 L1922.37 449.21 L1925.05 458.42 L1927.73 467.76 L1930.41 477.21 L1933.09 486.78 L1935.77 496.43 L1938.45 506.16 L1941.13 515.95 L1943.81 525.79 L1946.49 535.65 L1949.17 545.53 L1951.85 555.41 L1954.53 565.27 L1957.21 575.09 L1959.89 584.86 L1962.57 594.56 L1965.25 604.17 L1967.93 613.68 L1970.61 623.08 L1973.29 632.34 L1975.97 641.48 L1978.65 650.49 L1981.33 659.36 L1984.01 668.09 L1986.69 676.67 L1989.37 685.09 L1992.05 693.36 L1994.73 701.47 L1997.41 709.41 L2000.09 717.17 L2002.77 724.75 L2005.46 732.15 L2008.14 739.35 L2010.82 746.35 L2013.5 753.15 L2016.18 759.74 L2018.86 766.11 L2021.54 772.32 L2024.22 778.41 L2026.9 784.34 L2029.58 790.06 L2032.26 795.54 L2034.94 800.75 L2037.62 805.67 L2040.3 810.29 L2042.98 814.59 L2045.66 818.56 L2048.34 822.23 L2051.02 825.58 L2053.7 828.63 L2056.38 831.39 L2059.06 833.87 L2061.74 836.1 L2064.42 838.1 L2067.1 839.87 L2069.78 841.43 L2072.46 842.82 L2075.14 844.04 L2077.82 845.15 L2080.5 846.16 L2083.18 847.06 L2085.86 847.88 L2088.54 848.62 L2091.22 849.29 L2093.9 849.88 L2096.58 850.42 L2099.26 850.9 L2101.94 851.34 L2104.62 851.72 L2107.3 852.07 L2109.98 852.38 L2112.66 852.66 L2115.34 852.91 L2118.02 853.14 L2120.7 853.34 L2123.38 853.52 L2126.06 853.68 L2128.74 853.82 L2131.42 853.96 L2134.1 854.09 L2136.78 854.21 L2139.47 854.32 L2142.15 854.42 L2144.83 854.51 L2147.51 854.58 L2150.19 854.65 L2152.87 854.71 L2155.55 854.76 L2158.23 854.81 L2160.91 854.84 L2163.59 854.87 L2166.27 854.9 L2168.95 854.92 L2171.63 854.94 L2174.31 854.95 L2176.99 854.96 L2179.67 855.18 L2182.35 855.18 L2185.03 855.18 L2187.71 855.18 L2190.39 855.18 L2193.07 855.18 L2195.75 855.18 L2198.43 855.18 L2201.11 855.18 L2203.79 855.18 L2206.47 855.18 L2209.15 855.18 L2211.83 855.18 L2214.51 855.18 L2217.19 855.18 L2219.87 855.18 L2222.55 855.18 L2225.23 855.18 L2227.91 855.18 L2230.59 855.18 L2233.27 855.18 L2235.95 855.18 L2238.63 855.18 L2241.31 855.18 L2243.99 855.18 L2246.67 855.18 L2249.35 855.18 L2252.03 855.18 L2254.71 855.18 L2257.39 855.18 L2260.07 855.18 L2262.75 855.18 L2265.43 855.18 L2268.11 855.18 L2270.79 855.18 L2273.48 855.18 L2276.16 855.18 L2278.84 855.18 L2281.52 855.18 L2284.2 855.18 L2286.88 855.18 L2289.56 855.18 L2292.24 855.18 L2294.92 855.18 L2297.6 855.18 L2300.28 855.18 L2302.96 855.18 L2305.64 855.18 L2308.32 855.18 L2311 855.18 L2313.68 855.18 L2316.36 855.18 L2319.04 855.18 L2321.72 855.18 L2324.4 855.18 L2327.08 855.18 L2329.76 855.18 L2332.44 855.18 L2335.12 855.18 L2337.8 855.18" fill="none" stroke="#999999" stroke-width="3.84" stroke-linejoin="round"/>
<path d="M1268.4 134.72 L1271.08 134.72 L1273.76 134.72 L1276.44 134.72 L1279.12 134.72 L1281.8 134.72 L1284.48 134.72 L1287.16 134.72 L1289.84 134.72 L1292.52 134.72 L1295.2 134.72 L1297.88 134.72 L1300.56 134.72 L1303.24 134.72 L1305.92 134.72 L1308.6 134.72 L1311.28 134.72 L1313.96 134.72 L1316.64 134.72 L1319.32 134.72 L1322 134.72 L1324.68 134.72 L1327.36 134.72 L1330.04 134.72 L1332.72 134.72 L1335.41 134.72 L1338.09 134.72 L1340.77 134.72 L1343.45 134.72 L1346.13 134.72 L1348.81 134.72 L1351.49 134.72 L1354.17 134.72 L1356.85 134.72 L1359.53 134.72 L1362.21 134.72 L1364.89 134.72 L1367.57 134.72 L1370.25 134.72 L1372.93 134.72 L1375.61 134.72 L1378.29 134.72 L1380.97 134.72 L1383.65 134.72 L1386.33 134.72 L1389.01 134.72 L1391.69 134.72 L1394.37 134.72 L1397.05 134.72 L1399.73 134.72 L1402.41 134.72 L1405.09 134.72 L1407.77 134.72 L1410.45 134.72 L1413.13 134.72 L1415.81 134.72 L1418.49 134.72 L1421.17 134.72 L1423.85 134.72 L1426.53 134.72 L1429.21 134.72 L1431.89 134.72 L1434.57 134.72 L1437.25 134.72 L1439.93 134.72 L1442.61 134.72 L1445.29 134.72 L1447.97 134.72 L1450.65 134.72 L1453.33 134.72 L1456.01 134.72 L1458.69 134.72 L1461.37 134.72 L1464.05 134.72 L1466.73 134.72 L1469.42 134.72 L1472.1 134.72 L1474.78 134.72 L1477.46 134.72 L1480.14 134.72 L1482.82 134.72 L1485.5 134.72 L1488.18 134.72 L1490.86 134.72 L1493.54 134.72 L1496.22 134.72 L1498.9 134.72 L1501.58 134.72 L1504.26 134.72 L1506.94 134.72 L1509.62 134.72 L1512.3 134.72 L1514.98 134.72 L1517.66 134.72 L1520.34 134.72 L1523.02 134.72 L1525.7 134.72 L1528.38 134.72 L1531.06 134.72 L1533.74 134.72 L1536.42 134.72 L1539.1 134.94 L1541.78 134.95 L1544.46 134.95 L1547.14 134.96 L1549.82 134.96 L1552.5 134.97 L1555.18 134.98 L1557.86 134.99 L1560.54 135 L1563.22 135.02 L1565.9 135.03 L1568.58 135.05 L1571.26 135.07 L1573.94 135.09 L1576.62 135.11 L1579.3 135.14 L1581.98 135.17 L1584.66 135.19 L1587.34 135.23 L1590.02 135.26 L1592.7 135.29 L1595.38 135.33 L1598.06 135.37 L1600.74 135.42 L1603.43 135.46 L1606.11 135.51 L1608.79 135.56 L1611.47 135.61 L1614.15 135.66 L1616.83 135.71 L1619.51 135.76 L1622.19 135.82 L1624.87 135.87 L1627.55 135.93 L1630.23 135.98 L1632.91 136.03 L1635.59 136.08 L1638.27 136.12 L1640.95 136.16 L1643.63 136.2 L1646.31 136.24 L1648.99 136.27 L1651.67 136.3 L1654.35 136.33 L1657.03 136.36 L1659.71 136.39 L1662.39 136.42 L1665.07 136.45 L1667.75 136.48 L1670.43 136.5 L1673.11 136.53 L1675.79 136.57 L1678.47 136.6 L1681.15 136.64 L1683.83 136.67 L1686.51 136.72 L1689.19 136.76 L1691.87 136.81 L1694.55 136.87 L1697.23 136.94 L1699.91 137.01 L1702.59 137.09 L1705.27 137.18 L1707.95 137.28 L1710.63 137.4 L1713.31 137.52 L1715.99 137.65 L1718.67 137.8 L1721.35 137.96 L1724.03 138.13 L1726.71 138.32 L1729.39 138.52 L1732.07 138.73 L1734.75 138.96 L1737.44 139.21 L1740.12 139.47 L1742.8 139.76 L1745.48 140.05 L1748.16 140.37 L1750.84 140.71 L1753.52 141.1 L1756.2 141.54 L1758.88 142.03 L1761.56 142.58 L1764.24 143.19 L1766.92 143.86 L1769.6 144.6 L1772.28 145.4 L1774.96 146.26 L1777.64 147.19 L1780.32 148.19 L1783 149.24 L1785.68 150.35 L1788.36 151.51 L1791.04 152.72 L1793.72 153.95 L1796.4 155.21 L1799.08 156.48 L1801.76 157.73 L1804.44 158.97 L1807.12 160.2 L1809.8 161.43 L1812.48 162.67 L1815.16 163.9 L1817.84 165.15 L1820.52 166.41 L1823.2 167.68 L1825.88 168.98 L1828.56 170.3 L1831.24 171.66 L1833.92 173.07 L1836.6 174.53 L1839.28 176.05 L1841.96 177.65 L1844.64 179.33 L1847.32 181.12 L1850 183.02 L1852.68 185.06 L1855.36 187.24 L1858.04 189.6 L1860.72 192.11 L1863.4 194.79 L1866.08 197.63 L1868.76 200.64 L1871.45 203.82 L1874.13 207.19 L1876.81 210.73 L1879.49 214.47 L1882.17 218.39 L1884.85 222.51 L1887.53 226.81 L1890.21 231.31 L1892.89 236.01 L1895.57 240.9 L1898.25 245.97 L1900.93 251.24 L1903.61 256.69 L1906.29 262.32 L1908.97 268.12 L1911.65 274.1 L1914.33 280.26 L1917.01 286.63 L1919.69 293.21 L1922.37 300.01 L1925.05 307.03 L1927.73 314.27 L1930.41 321.74 L1933.09 329.43 L1935.77 337.35 L1938.45 345.49 L1941.13 353.87 L1943.81 362.47 L1946.49 371.3 L1949.17 380.36 L1951.85 389.63 L1954.53 399.13 L1957.21 408.85 L1959.89 418.77 L1962.57 428.9 L1965.25 439.23 L1967.93 449.75 L1970.61 460.46 L1973.29 471.35 L1975.97 482.4 L1978.65 493.59 L1981.33 504.91 L1984.01 516.33 L1986.69 527.85 L1989.37 539.42 L1992.05 551.05 L1994.73 562.69 L1997.41 574.33 L2000.09 585.95 L2002.77 597.51 L2005.46 609 L2008.14 620.4 L2010.82 631.66 L2013.5 642.79 L2016.18 653.74 L2018.86 664.5 L2021.54 675.13 L2024.22 685.73 L2026.9 696.22 L2029.58 706.53 L2032.26 716.61 L2034.94 726.4 L2037.62 735.85 L2040.3 744.92 L2042.98 753.57 L2045.66 761.77 L2048.34 769.51 L2051.02 776.78 L2053.7 783.55 L2056.38 789.85 L2059.06 795.67 L2061.74 801.02 L2064.42 805.92 L2067.1 810.39 L2069.78 814.45 L2072.46 818.12 L2075.14 821.44 L2077.82 824.45 L2080.5 827.2 L2083.18 829.69 L2085.86 831.97 L2088.54 834.05 L2091.22 835.95 L2093.9 837.69 L2096.58 839.29 L2099.26 840.75 L2101.94 842.1 L2104.62 843.33 L2107.3 844.47 L2109.98 845.52 L2112.66 846.48 L2115.34 847.37 L2118.02 848.18 L2120.7 848.93 L2123.38 849.62 L2126.06 850.25 L2128.74 850.84 L2131.42 851.41 L2134.1 851.95 L2136.78 852.45 L2139.47 852.9 L2142.15 853.29 L2144.83 853.62 L2147.51 853.9 L2150.19 854.13 L2152.87 854.33 L2155.55 854.48 L2158.23 854.6 L2160.91 854.7 L2163.59 854.78 L2166.27 854.83 L2168.95 854.88 L2171.63 854.91 L2174.31 854.94 L2176.99 854.95 L2179.67 855.18 L2182.35 855.18 L2185.03 855.18 L2187.71 855.18 L2190.39 855.18 L2193.07 855.18 L2195.75 855.18 L2198.43 855.18 L2201.11 855.18 L2203.79 855.18 L2206.47 855.18 L2209.15 855.18 L2211.83 855.18 L2214.51 855.18 L2217.19 855.18 L2219.87 855.18 L2222.55 855.18 L2225.23 855.18 L2227.91 855.18 L2230.59 855.18 L2233.27 855.18 L2235.95 855.18 L2238.63 855.18 L2241.31 855.18 L2243.99 855.18 L2246.67 855.18 L2249.35 855.18 L2252.03 855.18 L2254.71 855.18 L2257.39 855.18 L2260.07 855.18 L2262.75 855.18 L2265.43 855.18 L2268.11 855.18 L2270.79 855.18 L2273.48 855.18 L2276.16 855.18 L2278.84 855.18 L2281.52 855.18 L2284.2 855.18 L2286.88 855.18 L2289.56 855.18 L2292.24 855.18 L2294.92 855.18 L2297.6 855.18 L2300.28 855.18 L2302.96 855.18 L2305.64 855.18 L2308.32 855.18 L2311 855.18 L2313.68 855.18 L2316.36 855.18 L2319.04 855.18 L2321.72 855.18 L2324.4 855.18 L2327.08 855.18 L2329.76 855.18 L2332.44 855.18 L2335.12 855.18 L2337.8 855.18" fill="none" stroke="#999999" stroke-width="3.84" stroke-linejoin="round"/>
<path d="M1268.4 134.72 L1271.08 134.72 L1273.76 134.72 L1276.44 134.72 L1279.12 134.72 L1281.8 134.72 L1284.48 134.72 L1287.16 134.72 L1289.84 134.72 L1292.52 134.72 L1295.2 134.72 L1297.88 134.72 L1300.56 134.72 L1303.24 134.72 L1305.92 134.72 L1308.6 134.72 L1311.28 134.72 L1313.96 134.72 L1316.64 134.72 L1319.32 134.72 L1322 134.72 L1324.68 134.72 L1327.36 134.72 L1330.04 134.72 L1332.72 134.72 L1335.41 134.72 L1338.09 134.72 L1340.77 134.72 L1343.45 134.72 L1346.13 134.72 L1348.81 134.72 L1351.49 134.72 L1354.17 134.72 L1356.85 134.72 L1359.53 134.72 L1362.21 134.72 L1364.89 134.72 L1367.57 134.72 L1370.25 134.72 L1372.93 134.72 L1375.61 134.72 L1378.29 134.72 L1380.97 134.72 L1383.65 134.72 L1386.33 134.72 L1389.01 134.72 L1391.69 134.72 L1394.37 134.72 L1397.05 134.72 L1399.73 134.72 L1402.41 134.72 L1405.09 134.72 L1407.77 134.72 L1410.45 134.72 L1413.13 134.72 L1415.81 134.72 L1418.49 134.72 L1421.17 134.72 L1423.85 134.72 L1426.53 134.72 L1429.21 134.72 L1431.89 134.72 L1434.57 134.72 L1437.25 134.72 L1439.93 134.72 L1442.61 134.72 L1445.29 134.72 L1447.97 134.72 L1450.65 134.72 L1453.33 134.72 L1456.01 134.72 L1458.69 134.72 L1461.37 134.72 L1464.05 134.72 L1466.73 134.72 L1469.42 134.72 L1472.1 134.72 L1474.78 134.72 L1477.46 134.72 L1480.14 134.72 L1482.82 134.72 L1485.5 134.72 L1488.18 134.72 L1490.86 134.72 L1493.54 134.72 L1496.22 134.72 L1498.9 134.72 L1501.58 134.72 L1504.26 134.72 L1506.94 134.72 L1509.62 134.72 L1512.3 134.72 L1514.98 134.72 L1517.66 134.72 L1520.34 134.72 L1523.02 134.72 L1525.7 134.72 L1528.38 134.72 L1531.06 134.72 L1533.74 134.72 L1536.42 134.72 L1539.1 134.72 L1541.78 134.72 L1544.46 134.72 L1547.14 134.72 L1549.82 134.72 L1552.5 134.72 L1555.18 134.72 L1557.86 134.72 L1560.54 134.72 L1563.22 134.72 L1565.9 134.72 L1568.58 134.72 L1571.26 134.72 L1573.94 134.72 L1576.62 134.72 L1579.3 134.72 L1581.98 134.72 L1584.66 134.72 L1587.34 134.72 L1590.02 134.72 L1592.7 134.72 L1595.38 134.72 L1598.06 134.72 L1600.74 134.72 L1603.43 134.72 L1606.11 134.72 L1608.79 134.72 L1611.47 134.72 L1614.15 134.72 L1616.83 134.72 L1619.51 134.72 L1622.19 134.72 L1624.87 134.72 L1627.55 134.72 L1630.23 134.72 L1632.91 134.72 L1635.59 134.72 L1638.27 134.72 L1640.95 134.72 L1643.63 134.72 L1646.31 134.94 L1648.99 134.95 L1651.67 134.96 L1654.35 134.97 L1657.03 134.99 L1659.71 135 L1662.39 135.02 L1665.07 135.05 L1667.75 135.07 L1670.43 135.1 L1673.11 135.13 L1675.79 135.16 L1678.47 135.2 L1681.15 135.24 L1683.83 135.28 L1686.51 135.32 L1689.19 135.36 L1691.87 135.4 L1694.55 135.44 L1697.23 135.47 L1699.91 135.51 L1702.59 135.54 L1705.27 135.58 L1707.95 135.61 L1710.63 135.65 L1713.31 135.68 L1715.99 135.72 L1718.67 135.76 L1721.35 135.79 L1724.03 135.83 L1726.71 135.88 L1729.39 135.92 L1732.07 135.97 L1734.75 136.02 L1737.44 136.07 L1740.12 136.13 L1742.8 136.2 L1745.48 136.27 L1748.16 136.35 L1750.84 136.44 L1753.52 136.54 L1756.2 136.65 L1758.88 136.78 L1761.56 136.93 L1764.24 137.09 L1766.92 137.26 L1769.6 137.46 L1772.28 137.67 L1774.96 137.9 L1777.64 138.16 L1780.32 138.43 L1783 138.72 L1785.68 139.04 L1788.36 139.38 L1791.04 139.74 L1793.72 140.11 L1796.4 140.51 L1799.08 140.92 L1801.76 141.35 L1804.44 141.79 L1807.12 142.25 L1809.8 142.72 L1812.48 143.23 L1815.16 143.75 L1817.84 144.3 L1820.52 144.88 L1823.2 145.48 L1825.88 146.12 L1828.56 146.79 L1831.24 147.49 L1833.92 148.23 L1836.6 149.01 L1839.28 149.83 L1841.96 150.7 L1844.64 151.63 L1847.32 152.6 L1850 153.63 L1852.68 154.73 L1855.36 155.9 L1858.04 157.14 L1860.72 158.45 L1863.4 159.85 L1866.08 161.33 L1868.76 162.9 L1871.45 164.55 L1874.13 166.3 L1876.81 168.15 L1879.49 170.1 L1882.17 172.15 L1884.85 174.3 L1887.53 176.56 L1890.21 178.94 L1892.89 181.43 L1895.57 184.03 L1898.25 186.75 L1900.93 189.6 L1903.61 192.56 L1906.29 195.64 L1908.97 198.85 L1911.65 202.17 L1914.33 205.61 L1917.01 209.16 L1919.69 212.82 L1922.37 216.6 L1925.05 220.51 L1927.73 224.55 L1930.41 228.74 L1933.09 233.08 L1935.77 237.57 L1938.45 242.24 L1941.13 247.08 L1943.81 252.12 L1946.49 257.36 L1949.17 262.82 L1951.85 268.5 L1954.53 274.42 L1957.21 280.6 L1959.89 287.05 L1962.57 293.79 L1965.25 300.83 L1967.93 308.17 L1970.61 315.82 L1973.29 323.77 L1975.97 332.03 L1978.65 340.59 L1981.33 349.45 L1984.01 358.6 L1986.69 368.04 L1989.37 377.77 L1992.05 387.76 L1994.73 398.01 L1997.41 408.51 L2000.09 419.25 L2002.77 430.2 L2005.46 441.35 L2008.14 452.68 L2010.82 464.17 L2013.5 475.8 L2016.18 487.54 L2018.86 499.38 L2021.54 511.3 L2024.22 523.31 L2026.9 535.38 L2029.58 547.49 L2032.26 559.63 L2034.94 571.77 L2037.62 583.89 L2040.3 595.96 L2042.98 607.97 L2045.66 619.88 L2048.34 631.67 L2051.02 643.32 L2053.7 654.8 L2056.38 666.09 L2059.06 677.16 L2061.74 687.99 L2064.42 698.56 L2067.1 708.84 L2069.78 718.82 L2072.46 728.47 L2075.14 737.83 L2077.82 747 L2080.5 755.91 L2083.18 764.5 L2085.86 772.72 L2088.54 780.51 L2091.22 787.86 L2093.9 794.72 L2096.58 801.1 L2099.26 806.98 L2101.94 812.36 L2104.62 817.26 L2107.3 821.69 L2109.98 825.68 L2112.66 829.24 L2115.34 832.4 L2118.02 835.21 L2120.7 837.67 L2123.38 839.84 L2126.06 841.72 L2128.74 843.39 L2131.42 844.92 L2134.1 846.32 L2136.78 847.58 L2139.47 848.7 L2142.15 849.68 L2144.83 850.53 L2147.51 851.26 L2150.19 851.87 L2152.87 852.39 L2155.55 852.82 L2158.23 853.18 L2160.91 853.48 L2163.59 853.72 L2166.27 853.91 L2168.95 854.07 L2171.63 854.2 L2174.31 854.3 L2176.99 854.38 L2179.67 854.43 L2182.35 854.47 L2185.03 854.51 L2187.71 854.54 L2190.39 854.57 L2193.07 854.6 L2195.75 854.63 L2198.43 854.66 L2201.11 854.68 L2203.79 854.7 L2206.47 854.72 L2209.15 854.74 L2211.83 854.76 L2214.51 854.78 L2217.19 854.79 L2219.87 854.81 L2222.55 854.82 L2225.23 854.83 L2227.91 854.85 L2230.59 854.86 L2233.27 854.87 L2235.95 854.88 L2238.63 854.89 L2241.31 854.9 L2243.99 854.9 L2246.67 854.91 L2249.35 854.92 L2252.03 854.92 L2254.71 854.93 L2257.39 854.93 L2260.07 854.94 L2262.75 854.94 L2265.43 854.95 L2268.11 854.95 L2270.79 854.95 L2273.48 854.95 L2276.16 854.96 L2278.84 854.96 L2281.52 855.18 L2284.2 855.18 L2286.88 855.18 L2289.56 855.18 L2292.24 855.18 L2294.92 855.18 L2297.6 855.18 L2300.28 855.18 L2302.96 855.18 L2305.64 855.18 L2308.32 855.18 L2311 855.18 L2313.68 855.18 L2316.36 855.18 L2319.04 855.18 L2321.72 855.18 L2324.4 855.18 L2327.08 855.18 L2329.76 855.18 L2332.44 855.18 L2335.12 855.18 L2337.8 855.18" fill="none" stroke="#999999" stroke-width="3.84" stroke-linejoin="round"/>
<path d="M1268.4 134.72 L1271.08 134.72 L1273.76 134.72 L1276.44 134.72 L1279.12 134.72 L1281.8 134.72 L1284.48 134.72 L1287.16 134.72 L1289.84 134.72 L1292.52 134.72 L1295.2 134.72 L1297.88 134.72 L1300.56 134.72 L1303.24 134.72 L1305.92 134.72 L1308.6 134.72 L1311.28 134.72 L1313.96 134.72 L1316.64 134.72 L1319.32 134.72 L1322 134.72 L1324.68 134.72 L1327.36 134.72 L1330.04 134.72 L1332.72 134.72 L1335.41 134.72 L1338.09 134.72 L1340.77 134.72 L1343.45 134.72 L1346.13 134.72 L1348.81 134.72 L1351.49 134.72 L1354.17 134.72 L1356.85 134.72 L1359.53 134.72 L1362.21 134.72 L1364.89 134.72 L1367.57 134.72 L1370.25 134.72 L1372.93 134.72 L1375.61 134.72 L1378.29 134.72 L1380.97 134.72 L1383.65 134.72 L1386.33 134.72 L1389.01 134.72 L1391.69 134.72 L1394.37 134.72 L1397.05 134.72 L1399.73 134.72 L1402.41 134.72 L1405.09 134.72 L1407.77 134.72 L1410.45 134.72 L1413.13 134.72 L1415.81 134.72 L1418.49 134.72 L1421.17 134.72 L1423.85 134.72 L1426.53 134.72 L1429.21 134.72 L1431.89 134.72 L1434.57 134.72 L1437.25 134.72 L1439.93 134.72 L1442.61 134.72 L1445.29 134.72 L1447.97 134.72 L1450.65 134.72 L1453.33 134.72 L1456.01 134.72 L1458.69 134.72 L1461.37 134.72 L1464.05 134.72 L1466.73 134.72 L1469.42 134.72 L1472.1 134.72 L1474.78 134.72 L1477.46 134.72 L1480.14 134.72 L1482.82 134.72 L1485.5 134.72 L1488.18 134.72 L1490.86 134.72 L1493.54 134.72 L1496.22 134.72 L1498.9 134.72 L1501.58 134.72 L1504.26 134.72 L1506.94 134.72 L1509.62 134.72 L1512.3 134.72 L1514.98 134.72 L1517.66 134.72 L1520.34 134.72 L1523.02 134.72 L1525.7 134.72 L1528.38 134.72 L1531.06 134.72 L1533.74 134.72 L1536.42 134.72 L1539.1 134.72 L1541.78 134.72 L1544.46 134.72 L1547.14 134.72 L1549.82 134.72 L1552.5 134.72 L1555.18 134.72 L1557.86 134.72 L1560.54 134.72 L1563.22 134.72 L1565.9 134.72 L1568.58 134.72 L1571.26 134.72 L1573.94 134.72 L1576.62 134.72 L1579.3 134.72 L1581.98 134.72 L1584.66 134.72 L1587.34 134.72 L1590.02 134.72 L1592.7 134.72 L1595.38 134.72 L1598.06 134.72 L1600.74 134.72 L1603.43 134.72 L1606.11 134.72 L1608.79 134.72 L1611.47 134.72 L1614.15 134.72 L1616.83 134.72 L1619.51 134.72 L1622.19 134.72 L1624.87 134.72 L1627.55 134.72 L1630.23 134.72 L1632.91 134.72 L1635.59 134.72 L1638.27 134.72 L1640.95 134.72 L1643.63 134.72 L1646.31 134.72 L1648.99 134.72 L1651.67 134.72 L1654.35 134.72 L1657.03 134.72 L1659.71 134.72 L1662.39 134.72 L1665.07 134.72 L1667.75 134.72 L1670.43 134.72 L1673.11 134.72 L1675.79 134.72 L1678.47 134.72 L1681.15 134.72 L1683.83 134.72 L1686.51 134.72 L1689.19 134.72 L1691.87 134.72 L1694.55 134.72 L1697.23 134.72 L1699.91 134.72 L1702.59 134.72 L1705.27 134.72 L1707.95 134.72 L1710.63 134.72 L1713.31 134.72 L1715.99 134.72 L1718.67 134.72 L1721.35 134.72 L1724.03 134.72 L1726.71 134.72 L1729.39 134.72 L1732.07 134.72 L1734.75 134.72 L1737.44 134.72 L1740.12 134.72 L1742.8 134.72 L1745.48 134.72 L1748.16 134.72 L1750.84 134.72 L1753.52 134.95 L1756.2 134.96 L1758.88 134.97 L1761.56 134.99 L1764.24 135.02 L1766.92 135.06 L1769.6 135.1 L1772.28 135.15 L1774.96 135.2 L1777.64 135.27 L1780.32 135.35 L1783 135.43 L1785.68 135.52 L1788.36 135.62 L1791.04 135.73 L1793.72 135.84 L1796.4 135.94 L1799.08 136.04 L1801.76 136.13 L1804.44 136.2 L1807.12 136.26 L1809.8 136.32 L1812.48 136.38 L1815.16 136.44 L1817.84 136.49 L1820.52 136.54 L1823.2 136.59 L1825.88 136.64 L1828.56 136.68 L1831.24 136.73 L1833.92 136.78 L1836.6 136.83 L1839.28 136.89 L1841.96 136.95 L1844.64 137.02 L1847.32 137.09 L1850 137.18 L1852.68 137.27 L1855.36 137.38 L1858.04 137.51 L1860.72 137.66 L1863.4 137.84 L1866.08 138.06 L1868.76 138.32 L1871.45 138.62 L1874.13 138.96 L1876.81 139.34 L1879.49 139.78 L1882.17 140.28 L1884.85 140.83 L1887.53 141.45 L1890.21 142.13 L1892.89 142.88 L1895.57 143.69 L1898.25 144.58 L1900.93 145.54 L1903.61 146.56 L1906.29 147.63 L1908.97 148.77 L1911.65 149.94 L1914.33 151.2 L1917.01 152.55 L1919.69 154 L1922.37 155.57 L1925.05 157.25 L1927.73 159.05 L1930.41 160.98 L1933.09 163.05 L1935.77 165.25 L1938.45 167.6 L1941.13 170.1 L1943.81 172.75 L1946.49 175.56 L1949.17 178.54 L1951.85 181.68 L1954.53 184.99 L1957.21 188.47 L1959.89 192.13 L1962.57 195.96 L1965.25 199.97 L1967.93 204.12 L1970.61 208.42 L1973.29 212.86 L1975.97 217.46 L1978.65 222.22 L1981.33 227.15 L1984.01 232.26 L1986.69 237.58 L1989.37 243.1 L1992.05 248.85 L1994.73 254.85 L1997.41 261.11 L2000.09 267.65 L2002.77 274.49 L2005.46 281.67 L2008.14 289.19 L2010.82 297.08 L2013.5 305.38 L2016.18 314.1 L2018.86 323.27 L2021.54 332.92 L2024.22 343.03 L2026.9 353.6 L2029.58 364.62 L2032.26 376.09 L2034.94 387.98 L2037.62 400.27 L2040.3 412.94 L2042.98 425.97 L2045.66 439.33 L2048.34 452.97 L2051.02 466.87 L2053.7 480.97 L2056.38 495.24 L2059.06 509.64 L2061.74 524.1 L2064.42 538.59 L2067.1 553.06 L2069.78 567.45 L2072.46 581.72 L2075.14 595.89 L2077.82 610.08 L2080.5 624.23 L2083.18 638.25 L2085.86 652.08 L2088.54 665.64 L2091.22 678.87 L2093.9 691.7 L2096.58 704.07 L2099.26 715.94 L2101.94 727.27 L2104.62 738.03 L2107.3 748.18 L2109.98 757.72 L2112.66 766.64 L2115.34 774.94 L2118.02 782.61 L2120.7 789.69 L2123.38 796.18 L2126.06 802.11 L2128.74 807.55 L2131.42 812.66 L2134.1 817.43 L2136.78 821.84 L2139.47 825.87 L2142.15 829.52 L2144.83 832.8 L2147.51 835.73 L2150.19 838.31 L2152.87 840.57 L2155.55 842.55 L2158.23 844.26 L2160.91 845.73 L2163.59 846.98 L2166.27 848.06 L2168.95 848.96 L2171.63 849.73 L2174.31 850.38 L2176.99 850.91 L2179.67 851.36 L2182.35 851.73 L2185.03 852.05 L2187.71 852.34 L2190.39 852.59 L2193.07 852.81 L2195.75 853.01 L2198.43 853.19 L2201.11 853.35 L2203.79 853.49 L2206.47 853.62 L2209.15 853.74 L2211.83 853.84 L2214.51 853.94 L2217.19 854.03 L2219.87 854.11 L2222.55 854.18 L2225.23 854.25 L2227.91 854.31 L2230.59 854.37 L2233.27 854.42 L2235.95 854.47 L2238.63 854.52 L2241.31 854.57 L2243.99 854.61 L2246.67 854.65 L2249.35 854.69 L2252.03 854.73 L2254.71 854.77 L2257.39 854.8 L2260.07 854.82 L2262.75 854.85 L2265.43 854.87 L2268.11 854.89 L2270.79 854.91 L2273.48 854.92 L2276.16 854.93 L2278.84 854.94 L2281.52 854.95 L2284.2 854.96 L2286.88 855.18 L2289.56 855.18 L2292.24 855.18 L2294.92 855.18 L2297.6 855.18 L2300.28 855.18 L2302.96 855.18 L2305.64 855.18 L2308.32 855.18 L2311 855.18 L2313.68 855.18 L2316.36 855.18 L2319.04 855.18 L2321.72 855.18 L2324.4 855.18 L2327.08 855.18 L2329.76 855.18 L2332.44 855.18 L2335.12 855.18 L2337.8 855.18" fill="none" stroke="#999999" stroke-width="3.84" stroke-linejoin="round"/>
<path d="M1268.4 134.72 L1271.08 134.72 L1273.76 134.72 L1276.44 134.72 L1279.12 134.72 L1281.8 134.72 L1284.48 134.72 L1287.16 134.72 L1289.84 134.72 L1292.52 134.72 L1295.2 134.72 L1297.88 134.72 L1300.56 134.72 L1303.24 134.72 L1305.92 134.72 L1308.6 134.72 L1311.28 134.72 L1313.96 134.72 L1316.64 134.72 L1319.32 134.72 L1322 134.72 L1324.68 134.72 L1327.36 134.72 L1330.04 134.72 L1332.72 134.72 L1335.41 134.72 L1338.09 134.72 L1340.77 134.72 L1343.45 134.72 L1346.13 134.72 L1348.81 134.72 L1351.49 134.72 L1354.17 134.72 L1356.85 134.72 L1359.53 134.72 L1362.21 134.72 L1364.89 134.72 L1367.57 134.72 L1370.25 134.72 L1372.93 134.72 L1375.61 134.72 L1378.29 134.72 L1380.97 134.72 L1383.65 134.72 L1386.33 134.72 L1389.01 134.72 L1391.69 134.72 L1394.37 134.72 L1397.05 134.72 L1399.73 134.72 L1402.41 134.72 L1405.09 134.72 L1407.77 134.72 L1410.45 134.72 L1413.13 134.72 L1415.81 134.72 L1418.49 134.72 L1421.17 134.72 L1423.85 134.72 L1426.53 134.72 L1429.21 134.72 L1431.89 134.72 L1434.57 134.94 L1437.25 134.94 L1439.93 134.95 L1442.61 134.95 L1445.29 134.96 L1447.97 134.96 L1450.65 134.96 L1453.33 134.97 L1456.01 134.98 L1458.69 134.98 L1461.37 134.99 L1464.05 135 L1466.73 135.01 L1469.42 135.02 L1472.1 135.03 L1474.78 135.04 L1477.46 135.05 L1480.14 135.06 L1482.82 135.07 L1485.5 135.09 L1488.18 135.1 L1490.86 135.12 L1493.54 135.13 L1496.22 135.15 L1498.9 135.17 L1501.58 135.18 L1504.26 135.2 L1506.94 135.22 L1509.62 135.24 L1512.3 135.26 L1514.98 135.28 L1517.66 135.31 L1520.34 135.33 L1523.02 135.35 L1525.7 135.38 L1528.38 135.4 L1531.06 135.42 L1533.74 135.45 L1536.42 135.48 L1539.1 135.5 L1541.78 135.53 L1544.46 135.56 L1547.14 135.59 L1549.82 135.62 L1552.5 135.65 L1555.18 135.68 L1557.86 135.72 L1560.54 135.76 L1563.22 135.79 L1565.9 135.83 L1568.58 135.88 L1571.26 135.92 L1573.94 135.97 L1576.62 136.01 L1579.3 136.06 L1581.98 136.12 L1584.66 136.17 L1587.34 136.23 L1590.02 136.29 L1592.7 136.35 L1595.38 136.42 L1598.06 136.49 L1600.74 136.57 L1603.43 136.64 L1606.11 136.73 L1608.79 136.81 L1611.47 136.9 L1614.15 137 L1616.83 137.1 L1619.51 137.21 L1622.19 137.32 L1624.87 137.44 L1627.55 137.57 L1630.23 137.7 L1632.91 137.84 L1635.59 137.99 L1638.27 138.15 L1640.95 138.32 L1643.63 138.5 L1646.31 138.71 L1648.99 138.94 L1651.67 139.2 L1654.35 139.48 L1657.03 139.8 L1659.71 140.14 L1662.39 140.5 L1665.07 140.9 L1667.75 141.32 L1670.43 141.76 L1673.11 142.24 L1675.79 142.73 L1678.47 143.24 L1681.15 143.77 L1683.83 144.3 L1686.51 144.84 L1689.19 145.39 L1691.87 145.92 L1694.55 146.44 L1697.23 146.94 L1699.91 147.44 L1702.59 147.93 L1705.27 148.41 L1707.95 148.89 L1710.63 149.37 L1713.31 149.85 L1715.99 150.34 L1718.67 150.82 L1721.35 151.32 L1724.03 151.82 L1726.71 152.34 L1729.39 152.88 L1732.07 153.43 L1734.75 154.01 L1737.44 154.63 L1740.12 155.27 L1742.8 155.96 L1745.48 156.7 L1748.16 157.49 L1750.84 158.34 L1753.52 159.25 L1756.2 160.22 L1758.88 161.25 L1761.56 162.34 L1764.24 163.5 L1766.92 164.72 L1769.6 166 L1772.28 167.34 L1774.96 168.75 L1777.64 170.21 L1780.32 171.73 L1783 173.31 L1785.68 174.94 L1788.36 176.62 L1791.04 178.35 L1793.72 180.13 L1796.4 181.94 L1799.08 183.78 L1801.76 185.65 L1804.44 187.55 L1807.12 189.48 L1809.8 191.46 L1812.48 193.49 L1815.16 195.57 L1817.84 197.69 L1820.52 199.87 L1823.2 202.1 L1825.88 204.38 L1828.56 206.72 L1831.24 209.11 L1833.92 211.56 L1836.6 214.07 L1839.28 216.64 L1841.96 219.27 L1844.64 221.97 L1847.32 224.74 L1850 227.57 L1852.68 230.48 L1855.36 233.46 L1858.04 236.51 L1860.72 239.58 L1863.4 242.65 L1866.08 245.74 L1868.76 248.85 L1871.45 252 L1874.13 255.19 L1876.81 258.43 L1879.49 261.75 L1882.17 265.15 L1884.85 268.64 L1887.53 272.25 L1890.21 275.98 L1892.89 279.86 L1895.57 283.9 L1898.25 288.12 L1900.93 292.54 L1903.61 297.17 L1906.29 302.05 L1908.97 307.19 L1911.65 312.62 L1914.33 318.43 L1917.01 324.67 L1919.69 331.32 L1922.37 338.37 L1925.05 345.8 L1927.73 353.59 L1930.41 361.74 L1933.09 370.2 L1935.77 378.97 L1938.45 388 L1941.13 397.27 L1943.81 406.75 L1946.49 416.39 L1949.17 426.17 L1951.85 436.04 L1954.53 445.96 L1957.21 455.89 L1959.89 465.78 L1962.57 475.6 L1965.25 485.3 L1967.93 494.89 L1970.61 504.4 L1973.29 513.85 L1975.97 523.23 L1978.65 532.57 L1981.33 541.87 L1984.01 551.14 L1986.69 560.38 L1989.37 569.62 L1992.05 578.85 L1994.73 588.08 L1997.41 597.32 L2000.09 606.58 L2002.77 615.85 L2005.46 625.13 L2008.14 634.44 L2010.82 643.76 L2013.5 653.09 L2016.18 662.43 L2018.86 671.77 L2021.54 681.17 L2024.22 690.7 L2026.9 700.27 L2029.58 709.81 L2032.26 719.24 L2034.94 728.49 L2037.62 737.5 L2040.3 746.21 L2042.98 754.58 L2045.66 762.56 L2048.34 770.13 L2051.02 777.26 L2053.7 783.94 L2056.38 790.15 L2059.06 795.91 L2061.74 801.21 L2064.42 806.07 L2067.1 810.49 L2069.78 814.51 L2072.46 818.14 L2075.14 821.41 L2077.82 824.39 L2080.5 827.12 L2083.18 829.6 L2085.86 831.88 L2088.54 833.96 L2091.22 835.86 L2093.9 837.61 L2096.58 839.22 L2099.26 840.69 L2101.94 842.05 L2104.62 843.29 L2107.3 844.44 L2109.98 845.5 L2112.66 846.47 L2115.34 847.36 L2118.02 848.18 L2120.7 848.93 L2123.38 849.62 L2126.06 850.25 L2128.74 850.84 L2131.42 851.41 L2134.1 851.95 L2136.78 852.45 L2139.47 852.9 L2142.15 853.29 L2144.83 853.62 L2147.51 853.9 L2150.19 854.13 L2152.87 854.33 L2155.55 854.48 L2158.23 854.6 L2160.91 854.7 L2163.59 854.78 L2166.27 854.83 L2168.95 854.88 L2171.63 854.91 L2174.31 854.94 L2176.99 854.95 L2179.67 855.18 L2182.35 855.18 L2185.03 855.18 L2187.71 855.18 L2190.39 855.18 L2193.07 855.18 L2195.75 855.18 L2198.43 855.18 L2201.11 855.18 L2203.79 855.18 L2206.47 855.18 L2209.15 855.18 L2211.83 855.18 L2214.51 855.18 L2217.19 855.18 L2219.87 855.18 L2222.55 855.18 L2225.23 855.18 L2227.91 855.18 L2230.59 855.18 L2233.27 855.18 L2235.95 855.18 L2238.63 855.18 L2241.31 855.18 L2243.99 855.18 L2246.67 855.18 L2249.35 855.18 L2252.03 855.18 L2254.71 855.18 L2257.39 855.18 L2260.07 855.18 L2262.75 855.18 L2265.43 855.18 L2268.11 855.18 L2270.79 855.18 L2273.48 855.18 L2276.16 855.18 L2278.84 855.18 L2281.52 855.18 L2284.2 855.18 L2286.88 855.18 L2289.56 855.18 L2292.24 855.18 L2294.92 855.18 L2297.6 855.18 L2300.28 855.18 L2302.96 855.18 L2305.64 855.18 L2308.32 855.18 L2311 855.18 L2313.68 855.18 L2316.36 855.18 L2319.04 855.18 L2321.72 855.18 L2324.4 855.18 L2327.08 855.18 L2329.76 855.18 L2332.44 855.18 L2335.12 855.18 L2337.8 855.18" fill="none" stroke="#999999" stroke-width="3.84" stroke-linejoin="round"/>
<rect x="1310.21" y="127.42" width="6.8" height="14.6" fill="none" stroke="#000" stroke-width="1.3"/>
<rect x="1418.23" y="128.86" width="6.8" height="14.6" fill="none" stroke="#000" stroke-width="1.3"/>
<rect x="1526.25" y="132.47" width="6.8" height="14.6" fill="none" stroke="#000" stroke-width="1.3"/>
<rect x="1634.27" y="145.65" width="6.8" height="14.6" fill="none" stroke="#000" stroke-width="1.3"/>
<rect x="1742.29" y="204.22" width="6.8" height="14.6" fill="none" stroke="#000" stroke-width="1.3"/>
<rect x="1850.31" y="397.81" width="6.8" height="14.6" fill="none" stroke="#000" stroke-width="1.3"/>
<rect x="1958.33" y="732.89" width="6.8" height="14.6" fill="none" stroke="#000" stroke-width="1.3"/>
<rect x="2066.35" y="847.88" width="6.8" height="14.6" fill="none" stroke="#000" stroke-width="1.3"/>
<rect x="2174.37" y="847.88" width="6.8" height="14.6" fill="none" stroke="#000" stroke-width="1.3"/>
<rect x="2282.39" y="847.88" width="6.8" height="14.6" fill="none" stroke="#000" stroke-width="1.3"/>
<path d="M1317.01 122.48L1327.61 140.85L1306.4 140.85Z" fill="#000"/>
<path d="M1425.03 122.48L1435.64 140.85L1414.42 140.85Z" fill="#000"/>
<path d="M1533.05 123.92L1543.66 142.29L1522.44 142.29Z" fill="#000"/>
<path d="M1641.07 128.24L1651.68 146.61L1630.46 146.61Z" fill="#000"/>
<path d="M1749.09 152.74L1759.7 171.11L1738.48 171.11Z" fill="#000"/>
<path d="M1857.11 263.18L1867.72 281.55L1846.5 281.55Z" fill="#000"/>
<path d="M1965.13 591.49L1975.74 609.86L1954.52 609.86Z" fill="#000"/>
<path d="M2073.15 830.9L2083.76 849.27L2062.54 849.27Z" fill="#000"/>
<path d="M2181.17 842.93L2191.78 861.3L2170.56 861.3Z" fill="#000"/>
<path d="M2289.19 842.93L2299.8 861.3L2278.59 861.3Z" fill="#000"/>
<rect x="1309.13" y="126.85" width="15.75" height="15.75" fill="#000"/>
<rect x="1417.15" y="126.85" width="15.75" height="15.75" fill="#000"/>
<rect x="1525.17" y="126.85" width="15.75" height="15.75" fill="#000"/>
<rect x="1633.19" y="128.29" width="15.75" height="15.75" fill="#000"/>
<rect x="1741.21" y="132.61" width="15.75" height="15.75" fill="#000"/>
<rect x="1849.24" y="180.88" width="15.75" height="15.75" fill="#000"/>
<rect x="1957.26" y="430.88" width="15.75" height="15.75" fill="#000"/>
<rect x="2065.28" y="811.14" width="15.75" height="15.75" fill="#000"/>
<rect x="2173.3" y="847.3" width="15.75" height="15.75" fill="#000"/>
<rect x="2281.32" y="847.3" width="15.75" height="15.75" fill="#000"/>
<path d="M1305.87 134.72H1328.15M1317.01 123.59V145.86" stroke="#000" stroke-width="2.4" stroke-linecap="round" fill="none"/>
<path d="M1413.89 134.72H1436.17M1425.03 123.59V145.86" stroke="#000" stroke-width="2.4" stroke-linecap="round" fill="none"/>
<path d="M1521.91 134.72H1544.19M1533.05 123.59V145.86" stroke="#000" stroke-width="2.4" stroke-linecap="round" fill="none"/>
<path d="M1629.93 134.72H1652.21M1641.07 123.59V145.86" stroke="#000" stroke-width="2.4" stroke-linecap="round" fill="none"/>
<path d="M1737.95 136.38H1760.23M1749.09 125.24V147.52" stroke="#000" stroke-width="2.4" stroke-linecap="round" fill="none"/>
<path d="M1845.97 156.7H1868.25M1857.11 145.56V167.83" stroke="#000" stroke-width="2.4" stroke-linecap="round" fill="none"/>
<path d="M1953.99 300.5H1976.27M1965.13 289.36V311.64" stroke="#000" stroke-width="2.4" stroke-linecap="round" fill="none"/>
<path d="M2062.01 730.9H2084.29M2073.15 719.76V742.04" stroke="#000" stroke-width="2.4" stroke-linecap="round" fill="none"/>
<path d="M2170.03 854.46H2192.31M2181.17 843.32V865.59" stroke="#000" stroke-width="2.4" stroke-linecap="round" fill="none"/>
<path d="M2278.05 855.18H2300.33M2289.19 844.04V866.31" stroke="#000" stroke-width="2.4" stroke-linecap="round" fill="none"/>
<path d="M1309.13 126.85H1324.88V142.6H1309.13ZM1309.13 126.85L1324.88 142.6M1309.13 142.6L1324.88 126.85" stroke="#000" stroke-width="2.4" stroke-linecap="round" stroke-linejoin="round" fill="none"/>
<path d="M1417.15 126.85H1432.9V142.6H1417.15ZM1417.15 126.85L1432.9 142.6M1417.15 142.6L1432.9 126.85" stroke="#000" stroke-width="2.4" stroke-linecap="round" stroke-linejoin="round" fill="none"/>
<path d="M1525.17 126.85H1540.92V142.6H1525.17ZM1525.17 126.85L1540.92 142.6M1525.17 142.6L1540.92 126.85" stroke="#000" stroke-width="2.4" stroke-linecap="round" stroke-linejoin="round" fill="none"/>
<path d="M1633.19 126.85H1648.94V142.6H1633.19ZM1633.19 126.85L1648.94 142.6M1633.19 142.6L1648.94 126.85" stroke="#000" stroke-width="2.4" stroke-linecap="round" stroke-linejoin="round" fill="none"/>
<path d="M1741.21 127.06H1756.96V142.81H1741.21ZM1741.21 127.06L1756.96 142.81M1741.21 142.81L1756.96 127.06" stroke="#000" stroke-width="2.4" stroke-linecap="round" stroke-linejoin="round" fill="none"/>
<path d="M1849.24 129.59H1864.99V145.34H1849.24ZM1849.24 129.59L1864.99 145.34M1849.24 145.34L1864.99 129.59" stroke="#000" stroke-width="2.4" stroke-linecap="round" stroke-linejoin="round" fill="none"/>
<path d="M1957.26 191.9H1973.01V207.65H1957.26ZM1957.26 191.9L1973.01 207.65M1957.26 207.65L1973.01 191.9" stroke="#000" stroke-width="2.4" stroke-linecap="round" stroke-linejoin="round" fill="none"/>
<path d="M2065.28 577.49H2081.03V593.24H2065.28ZM2065.28 577.49L2081.03 593.24M2065.28 593.24L2081.03 577.49" stroke="#000" stroke-width="2.4" stroke-linecap="round" stroke-linejoin="round" fill="none"/>
<path d="M2173.3 843.7H2189.05V859.45H2173.3ZM2173.3 843.7L2189.05 859.45M2173.3 859.45L2189.05 843.7" stroke="#000" stroke-width="2.4" stroke-linecap="round" stroke-linejoin="round" fill="none"/>
<path d="M2281.32 847.3H2297.07V863.05H2281.32ZM2281.32 847.3L2297.07 863.05M2281.32 863.05L2297.07 847.3" stroke="#000" stroke-width="2.4" stroke-linecap="round" stroke-linejoin="round" fill="none"/>
<path d="M1305.87 134.72H1328.15M1317.01 123.59V145.86M1309.13 126.85L1324.88 142.6M1309.13 142.6L1324.88 126.85" stroke="#000" stroke-width="2.4" stroke-linecap="round" fill="none"/>
<path d="M1413.89 134.72H1436.17M1425.03 123.59V145.86M1417.15 126.85L1432.9 142.6M1417.15 142.6L1432.9 126.85" stroke="#000" stroke-width="2.4" stroke-linecap="round" fill="none"/>
<path d="M1521.91 135.44H1544.19M1533.05 124.31V146.58M1525.17 127.57L1540.92 143.32M1525.17 143.32L1540.92 127.57" stroke="#000" stroke-width="2.4" stroke-linecap="round" fill="none"/>
<path d="M1629.93 138.33H1652.21M1641.07 127.19V149.46M1633.19 130.45L1648.94 146.2M1633.19 146.2L1648.94 130.45" stroke="#000" stroke-width="2.4" stroke-linecap="round" fill="none"/>
<path d="M1737.95 157.78H1760.23M1749.09 146.64V168.91M1741.21 149.9L1756.96 165.65M1741.21 165.65L1756.96 149.9" stroke="#000" stroke-width="2.4" stroke-linecap="round" fill="none"/>
<path d="M1845.97 235.44H1868.25M1857.11 224.31V246.58M1849.24 227.57L1864.99 243.32M1849.24 243.32L1864.99 227.57" stroke="#000" stroke-width="2.4" stroke-linecap="round" fill="none"/>
<path d="M1953.99 484.86H1976.27M1965.13 473.73V496M1957.26 476.99L1973.01 492.74M1957.26 492.74L1973.01 476.99" stroke="#000" stroke-width="2.4" stroke-linecap="round" fill="none"/>
<path d="M2062.01 819.01H2084.29M2073.15 807.87V830.15M2065.28 811.14L2081.03 826.89M2065.28 826.89L2081.03 811.14" stroke="#000" stroke-width="2.4" stroke-linecap="round" fill="none"/>
<path d="M2170.03 855.18H2192.31M2181.17 844.04V866.31M2173.3 847.3L2189.05 863.05M2173.3 863.05L2189.05 847.3" stroke="#000" stroke-width="2.4" stroke-linecap="round" fill="none"/>
<path d="M2278.05 855.18H2300.33M2289.19 844.04V866.31M2281.32 847.3L2297.07 863.05M2281.32 863.05L2297.07 847.3" stroke="#000" stroke-width="2.4" stroke-linecap="round" fill="none"/>
<line x1="1268.4" x2="2337.8" y1="206.77" y2="206.77" stroke="#000" stroke-width="3.84" stroke-dasharray="17.42 17.42"/>
</g>
<rect x="1269.35" y="99.65" width="1067.5" height="790.6" fill="none" stroke="#333333" stroke-width="1.9"/>
<line x1="1317.01" x2="1317.01" y1="891.2" y2="902.6" stroke="#333333" stroke-width="3.84"/>
<text x="1317.01" y="938" text-anchor="middle" font-size="36.67" fill="#4D4D4D" font-family="'Liberation Sans', Arial, sans-serif">0.125</text>
<line x1="1425.03" x2="1425.03" y1="891.2" y2="902.6" stroke="#333333" stroke-width="3.84"/>
<text x="1425.03" y="938" text-anchor="middle" font-size="36.67" fill="#4D4D4D" font-family="'Liberation Sans', Arial, sans-serif">0.25</text>
<line x1="1533.05" x2="1533.05" y1="891.2" y2="902.6" stroke="#333333" stroke-width="3.84"/>
<text x="1533.05" y="938" text-anchor="middle" font-size="36.67" fill="#4D4D4D" font-family="'Liberation Sans', Arial, sans-serif">0.5</text>
<line x1="1641.07" x2="1641.07" y1="891.2" y2="902.6" stroke="#333333" stroke-width="3.84"/>
<text x="1641.07" y="938" text-anchor="middle" font-size="36.67" fill="#4D4D4D" font-family="'Liberation Sans', Arial, sans-serif">1</text>
<line x1="1749.09" x2="1749.09" y1="891.2" y2="902.6" stroke="#333333" stroke-width="3.84"/>
<text x="1749.09" y="938" text-anchor="middle" font-size="36.67" fill="#4D4D4D" font-family="'Liberation Sans', Arial, sans-serif">2</text>
<line x1="1857.11" x2="1857.11" y1="891.2" y2="902.6" stroke="#333333" stroke-width="3.84"/>
<text x="1857.11" y="938" text-anchor="middle" font-size="36.67" fill="#4D4D4D" font-family="'Liberation Sans', Arial, sans-serif">4</text>
<line x1="1965.13" x2="1965.13" y1="891.2" y2="902.6" stroke="#333333" stroke-width="3.84"/>
<text x="1965.13" y="938" text-anchor="middle" font-size="36.67" fill="#4D4D4D" font-family="'Liberation Sans', Arial, sans-serif">8</text>
<line x1="2073.15" x2="2073.15" y1="891.2" y2="902.6" stroke="#333333" stroke-width="3.84"/>
<text x="2073.15" y="938" text-anchor="middle" font-size="36.67" fill="#4D4D4D" font-family="'Liberation Sans', Arial, sans-serif">16</text>
<line x1="2181.17" x2="2181.17" y1="891.2" y2="902.6" stroke="#333333" stroke-width="3.84"/>
<text x="2181.17" y="938" text-anchor="middle" font-size="36.67" fill="#4D4D4D" font-family="'Liberation Sans', Arial, sans-serif">32</text>
<line x1="2289.19" x2="2289.19" y1="891.2" y2="902.6" stroke="#333333" stroke-width="3.84"/>
<text x="2289.19" y="938" text-anchor="middle" font-size="36.67" fill="#4D4D4D" font-family="'Liberation Sans', Arial, sans-serif">64</text>
<line x1="164.7" x2="176.1" y1="855.18" y2="855.18" stroke="#333333" stroke-width="3.84"/>
<text x="155.4" y="868.28" text-anchor="end" font-size="36.67" fill="#4D4D4D" font-family="'Liberation Sans', Arial, sans-serif">0.00</text>
<line x1="164.7" x2="176.1" y1="675.06" y2="675.06" stroke="#333333" stroke-width="3.84"/>
<text x="155.4" y="688.16" text-anchor="end" font-size="36.67" fill="#4D4D4D" font-family="'Liberation Sans', Arial, sans-serif">0.25</text>
<line x1="164.7" x2="176.1" y1="494.95" y2="494.95" stroke="#333333" stroke-width="3.84"/>
<text x="155.4" y="508.05" text-anchor="end" font-size="36.67" fill="#4D4D4D" font-family="'Liberation Sans', Arial, sans-serif">0.50</text>
<line x1="164.7" x2="176.1" y1="314.84" y2="314.84" stroke="#333333" stroke-width="3.84"/>
<text x="155.4" y="327.94" text-anchor="end" font-size="36.67" fill="#4D4D4D" font-family="'Liberation Sans', Arial, sans-serif">0.75</text>
<line x1="164.7" x2="176.1" y1="134.72" y2="134.72" stroke="#333333" stroke-width="3.84"/>
<text x="155.4" y="147.82" text-anchor="end" font-size="36.67" fill="#4D4D4D" font-family="'Liberation Sans', Arial, sans-serif">1.00</text>
<text x="1257" y="989.4" text-anchor="middle" font-size="45.2" fill="#000" font-family="'Liberation Sans', Arial, sans-serif">MIC (mg/L)</text>
<text transform="translate(63 495.7) rotate(-90)" x="0" y="0" text-anchor="middle" font-size="44" fill="#000" font-family="'Liberation Sans', Arial, sans-serif">PTA</text>
<text x="251" y="1117.6" font-size="45.2" fill="#000" font-family="'Liberation Sans', Arial, sans-serif">Serum Creatinine</text>
<rect x="624.15" y="1066.35" width="70.1" height="70.1" fill="#E5E5E5" stroke="#000" stroke-width="3.8" stroke-linejoin="round"/>
<rect x="652.4" y="1094.1" width="6.8" height="14.6" fill="none" stroke="#000" stroke-width="1.3"/>
<text x="716.8" y="1114.3" font-size="36.67" fill="#000" font-family="'Liberation Sans', Arial, sans-serif">0.2 mg/dL</text>
<rect x="902.75" y="1066.35" width="70.1" height="70.1" fill="#E5E5E5" stroke="#000" stroke-width="3.8" stroke-linejoin="round"/>
<path d="M937.8 1089.15L948.41 1107.52L927.19 1107.52Z" fill="#000"/>
<text x="995.4" y="1114.3" font-size="36.67" fill="#000" font-family="'Liberation Sans', Arial, sans-serif">0.4 mg/dL</text>
<rect x="1181.35" y="1066.35" width="70.1" height="70.1" fill="#E5E5E5" stroke="#000" stroke-width="3.8" stroke-linejoin="round"/>
<rect x="1208.53" y="1093.53" width="15.75" height="15.75" fill="#000"/>
<text x="1274" y="1114.3" font-size="36.67" fill="#000" font-family="'Liberation Sans', Arial, sans-serif">0.6 mg/dL</text>
<rect x="1459.95" y="1066.35" width="70.1" height="70.1" fill="#E5E5E5" stroke="#000" stroke-width="3.8" stroke-linejoin="round"/>
<path d="M1483.86 1101.4H1506.14M1495 1090.26V1112.54" stroke="#000" stroke-width="2.4" stroke-linecap="round" fill="none"/>
<text x="1552.6" y="1114.3" font-size="36.67" fill="#000" font-family="'Liberation Sans', Arial, sans-serif">0.8 mg/dL</text>
<rect x="1738.55" y="1066.35" width="70.1" height="70.1" fill="#E5E5E5" stroke="#000" stroke-width="3.8" stroke-linejoin="round"/>
<path d="M1765.73 1093.53H1781.48V1109.28H1765.73ZM1765.73 1093.53L1781.48 1109.28M1765.73 1109.28L1781.48 1093.53" stroke="#000" stroke-width="2.4" stroke-linecap="round" stroke-linejoin="round" fill="none"/>
<text x="1831.2" y="1114.3" font-size="36.67" fill="#000" font-family="'Liberation Sans', Arial, sans-serif">1.0 mg/dL</text>
<rect x="2017.15" y="1066.35" width="70.1" height="70.1" fill="#E5E5E5" stroke="#000" stroke-width="3.8" stroke-linejoin="round"/>
<path d="M2041.06 1101.4H2063.34M2052.2 1090.26V1112.54M2044.32 1093.53L2060.07 1109.28M2044.32 1109.28L2060.07 1093.53" stroke="#000" stroke-width="2.4" stroke-linecap="round" fill="none"/>
<text x="2109.8" y="1114.3" font-size="36.67" fill="#000" font-family="'Liberation Sans', Arial, sans-serif">Unknown</text>
</svg>
</body></html>
